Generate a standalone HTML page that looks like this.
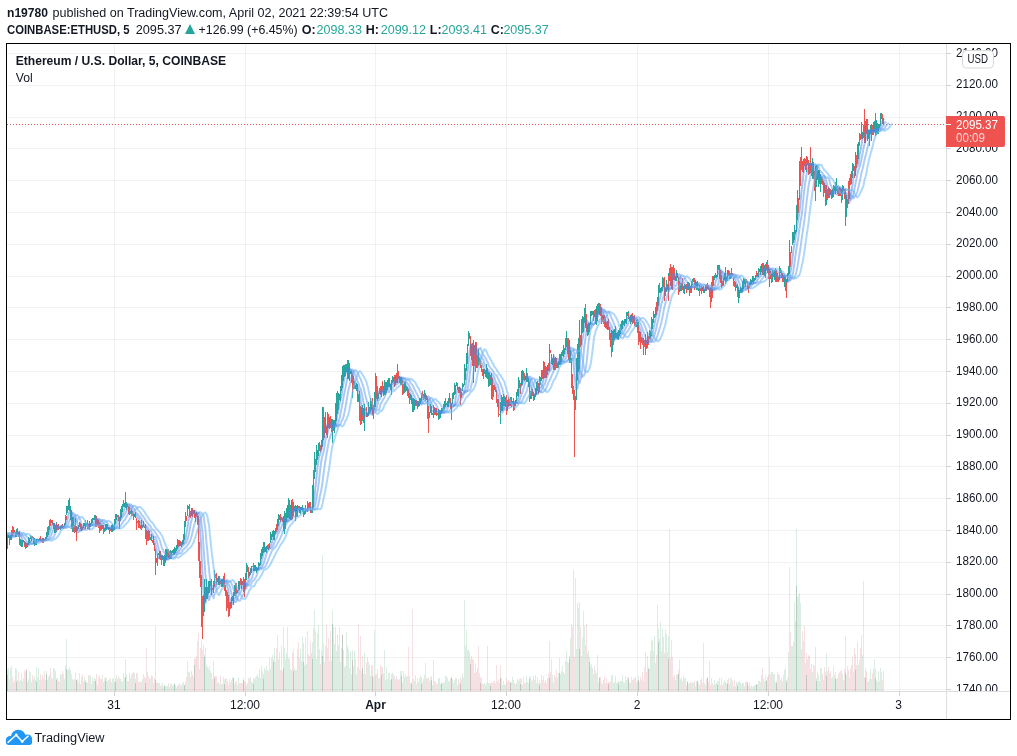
<!DOCTYPE html>
<html><head><meta charset="utf-8"><title>ETHUSD chart</title>
<style>html,body{margin:0;padding:0;background:#fff;}body{width:1017px;height:756px;position:relative;overflow:hidden;font-family:"Liberation Sans",sans-serif;}</style>
</head><body>
<svg width="1017" height="756" viewBox="0 0 1017 756" style="position:absolute;left:0;top:0;will-change:transform">
<defs><clipPath id="cp"><rect x="7" y="44" width="939" height="647"/></clipPath><clipPath id="pa"><rect x="947" y="44" width="63" height="647"/></clipPath></defs>
<g stroke="rgba(40,60,50,0.065)" stroke-width="1" shape-rendering="crispEdges">
<path d="M7 689.5H946M7 657.5H946M7 625.5H946M7 594.5H946M7 562.5H946M7 530.5H946M7 498.5H946M7 466.5H946M7 435.5H946M7 403.5H946M7 371.5H946M7 339.5H946M7 307.5H946M7 276.5H946M7 244.5H946M7 212.5H946M7 180.5H946M7 148.5H946M7 117.5H946M7 85.5H946M7 53.5H946"/>
<path d="M114.5 44V691M245.5 44V691M375.5 44V691M506.5 44V691M637.5 44V691M768.5 44V691M899.5 44V691"/>
</g>
<g clip-path="url(#cp)" shape-rendering="crispEdges" stroke-width="1">
<path stroke="rgba(80,165,115,0.2)" d="M7.5 675V691M7.5 669V675M8.5 668V691M10.5 668V691M11.5 666V691M13.5 682V691M16.5 682V691M16.5 669V682M20.5 680V691M22.5 681V691M26.5 670V691M27.5 682V691M28.5 679V691M29.5 671V691M30.5 672V691M34.5 676V691M36.5 682V691M36.5 667V682M37.5 677V691M38.5 668V691M39.5 680V691M43.5 679V691M45.5 680V691M46.5 671V691M48.5 677V691M49.5 675V691M51.5 677V691M54.5 669V691M56.5 678V691M57.5 678V691M59.5 682V691M60.5 674V691M61.5 675V691M64.5 679V691M65.5 665V691M66.5 639V691M67.5 670V691M68.5 669V691M69.5 667V691M70.5 670V691M72.5 679V691M75.5 673V691M77.5 679V691M78.5 682V691M79.5 673V691M81.5 677V691M83.5 681V691M84.5 677V691M85.5 680V691M86.5 682V691M89.5 676V691M90.5 675V691M91.5 684V691M92.5 677V691M94.5 678V691M95.5 679V691M97.5 685V691M101.5 679V691M104.5 678V691M106.5 678V691M108.5 680V691M111.5 682V691M112.5 678V691M114.5 682V691M115.5 678V691M116.5 675V691M117.5 679V691M120.5 679V691M122.5 682V691M123.5 673V691M124.5 678V691M126.5 674V691M130.5 678V691M134.5 673V691M135.5 683V691M137.5 673V691M142.5 679V691M147.5 672V691M150.5 678V691M153.5 683V691M157.5 682V691M158.5 683V691M159.5 683V691M162.5 683V691M164.5 686V691M164.5 684V686M166.5 686V691M170.5 684V691M172.5 686V691M174.5 683V691M176.5 687V691M177.5 685V691M179.5 683V691M181.5 685V691M182.5 683V691M183.5 682V691M184.5 685V691M185.5 682V691M187.5 661V691M188.5 672V691M191.5 671V691M195.5 658V691M203.5 645V691M204.5 655V691M206.5 665V691M208.5 669V691M209.5 666V691M210.5 671V691M213.5 661V691M218.5 682V691M222.5 684V691M224.5 679V691M229.5 679V691M231.5 680V691M232.5 677V691M233.5 678V691M234.5 684V691M235.5 682V691M237.5 685V691M238.5 677V691M239.5 683V691M243.5 678V691M245.5 682V691M246.5 685V691M249.5 678V691M250.5 677V691M251.5 682V691M252.5 682V691M254.5 679V691M256.5 676V691M258.5 677V691M259.5 669V691M260.5 678V691M261.5 666V691M262.5 671V691M263.5 679V691M264.5 668V691M266.5 666V691M269.5 658V691M270.5 669V691M271.5 658V691M272.5 655V691M273.5 659V691M274.5 648V691M275.5 661V691M278.5 659V691M279.5 652V691M284.5 648V691M286.5 653V691M288.5 658V691M290.5 669V691M291.5 670V691M293.5 671V691M294.5 668V691M296.5 670V691M297.5 649V691M300.5 649V691M301.5 661V691M302.5 637V691M304.5 665V691M305.5 637V691M306.5 664V691M307.5 631V691M309.5 656V691M311.5 653V691M312.5 642V691M313.5 628V691M314.5 610V691M316.5 659V691M317.5 633V691M318.5 625V691M321.5 650V691M322.5 555V691M325.5 646V691M327.5 648V691M329.5 661V691M332.5 610V691M333.5 627V691M334.5 644V691M335.5 627V691M336.5 651V691M338.5 645V691M340.5 662V691M341.5 648V691M342.5 635V691M344.5 667V691M346.5 632V691M348.5 649V691M350.5 651V691M352.5 650V660M354.5 651V691M356.5 674V691M361.5 671V691M364.5 653V691M367.5 657V691M368.5 662V691M370.5 676V691M371.5 665V691M373.5 677V691M374.5 630V691M375.5 675V691M378.5 678V691M379.5 678V691M381.5 667V675M383.5 673V691M384.5 650V691M386.5 667V691M388.5 673V691M390.5 680V691M391.5 674V691M392.5 673V691M393.5 674V691M395.5 679V691M397.5 679V691M400.5 671V691M401.5 676V691M404.5 677V691M406.5 677V691M410.5 683V691M414.5 681V691M415.5 675V691M418.5 682V691M420.5 676V691M421.5 677V691M423.5 679V691M424.5 675V691M425.5 663V691M429.5 681V691M430.5 677V691M431.5 680V691M432.5 685V691M435.5 681V691M438.5 678V691M440.5 684V691M441.5 682V691M442.5 683V691M443.5 683V691M444.5 682V691M446.5 676V691M448.5 681V691M452.5 679V691M453.5 683V691M454.5 680V691M455.5 678V691M456.5 678V691M459.5 682V691M461.5 679V691M462.5 673V691M463.5 677V691M464.5 600V691M465.5 646V691M466.5 630V691M467.5 650V691M468.5 649V691M471.5 656V691M473.5 660V691M475.5 663V691M483.5 684V691M484.5 683V691M486.5 683V691M488.5 683V691M490.5 686V691M491.5 682V691M493.5 681V691M502.5 685V691M504.5 685V691M507.5 682V691M509.5 681V691M510.5 682V691M511.5 682V691M512.5 677V691M515.5 684V691M516.5 683V691M517.5 679V691M518.5 681V691M521.5 679V691M522.5 685V691M525.5 683V691M526.5 676V691M528.5 683V691M530.5 676V691M531.5 681V691M534.5 680V691M535.5 675V691M536.5 683V691M539.5 680V691M540.5 683V691M541.5 675V691M543.5 676V691M545.5 680V691M547.5 678V691M549.5 678V691M549.5 641V678M551.5 659V691M552.5 675V691M555.5 677V691M558.5 673V691M560.5 674V691M562.5 666V691M564.5 674V691M565.5 661V691M566.5 651V691M569.5 659V691M570.5 638V691M575.5 578V691M576.5 649V691M577.5 603V691M578.5 608V691M579.5 602V649M581.5 656V691M582.5 638V691M583.5 611V691M584.5 626V691M588.5 650V691M589.5 657V662M590.5 666V691M591.5 664V691M592.5 668V691M593.5 674V691M596.5 673V691M598.5 682V691M599.5 678V691M603.5 680V691M607.5 683V691M612.5 675V691M614.5 682V691M616.5 683V691M618.5 681V691M620.5 681V691M622.5 675V691M624.5 683V691M625.5 676V691M626.5 680V691M628.5 679V691M630.5 683V691M631.5 677V691M633.5 679V691M636.5 682V691M638.5 676V691M641.5 680V691M645.5 652V691M647.5 656V691M648.5 667V669M649.5 669V691M650.5 651V691M651.5 640V691M652.5 641V691M653.5 651V691M654.5 636V691M655.5 663V691M657.5 605V691M658.5 629V691M660.5 622V691M661.5 651V691M662.5 629V691M665.5 630V691M666.5 634V691M668.5 636V659M669.5 529V691M676.5 675V691M680.5 679V691M684.5 678V691M687.5 681V691M688.5 684V691M691.5 683V691M692.5 682V691M696.5 681V691M698.5 683V691M701.5 678V691M703.5 643V691M704.5 683V691M705.5 685V691M711.5 678V691M713.5 685V691M714.5 680V691M716.5 683V691M717.5 685V691M717.5 681V685M718.5 681V691M723.5 683V691M724.5 680V691M726.5 683V691M727.5 680V691M730.5 678V691M736.5 682V691M738.5 682V691M739.5 681V691M740.5 683V691M742.5 683V691M744.5 686V691M749.5 682V691M750.5 687V691M751.5 685V691M752.5 687V691M754.5 685V691M755.5 685V691M756.5 685V691M757.5 684V691M758.5 681V691M759.5 681V691M760.5 682V691M761.5 675V691M764.5 681V691M766.5 680V681M772.5 672V691M774.5 674V691M777.5 672V691M779.5 675V691M780.5 680V691M784.5 670V691M785.5 668V691M786.5 680V682M787.5 678V691M788.5 652V691M789.5 567V691M791.5 646V691M792.5 646V691M793.5 642V691M794.5 602V691M795.5 621V691M796.5 586V691M796.5 529V586M797.5 597V691M798.5 595V691M799.5 593V691M800.5 603V691M803.5 641V691M806.5 675V691M807.5 659V691M809.5 656V691M812.5 672V691M815.5 647V691M816.5 681V691M816.5 678V681M818.5 675V691M820.5 668V691M826.5 653V691M827.5 671V691M829.5 673V691M832.5 677V691M834.5 675V691M835.5 679V691M836.5 679V691M839.5 672V691M842.5 674V691M846.5 675V691M847.5 666V691M849.5 677V691M851.5 665V691M853.5 672V691M855.5 654V691M857.5 642V691M858.5 665V691M859.5 660V691M861.5 635V691M862.5 655V691M865.5 678V691M865.5 668V678M868.5 681V691M870.5 669V691M871.5 679V691M873.5 669V691M874.5 659V691M876.5 680V691M878.5 671V691M879.5 681V691M880.5 668V691M881.5 672V691"/>
<path stroke="rgba(200,90,100,0.18)" d="M9.5 679V691M12.5 677V691M14.5 680V691M15.5 668V691M17.5 680V691M18.5 672V691M19.5 681V691M21.5 673V691M23.5 678V691M24.5 670V691M25.5 672V691M26.5 669V670M31.5 682V691M32.5 675V691M33.5 679V691M35.5 680V691M40.5 674V691M41.5 680V691M42.5 675V691M44.5 671V691M47.5 680V691M50.5 668V691M52.5 679V691M53.5 668V691M55.5 671V691M58.5 681V691M62.5 671V691M63.5 674V691M71.5 674V691M73.5 680V691M74.5 679V691M76.5 680V691M80.5 684V691M82.5 674V691M87.5 683V691M88.5 675V691M93.5 681V691M96.5 674V691M98.5 677V691M99.5 676V691M100.5 679V691M102.5 675V691M103.5 682V691M105.5 677V691M107.5 681V691M109.5 679V691M110.5 678V691M113.5 679V691M118.5 676V691M119.5 678V691M121.5 681V691M125.5 659V691M127.5 681V691M128.5 681V691M129.5 673V691M131.5 675V691M132.5 673V691M133.5 672V691M135.5 679V683M136.5 673V691M138.5 682V691M139.5 682V691M140.5 681V691M141.5 682V691M143.5 674V691M144.5 677V691M145.5 678V691M146.5 648V691M148.5 676V691M149.5 679V691M151.5 675V691M152.5 676V691M154.5 678V691M155.5 626V691M156.5 683V691M160.5 686V691M161.5 685V691M163.5 687V691M165.5 686V691M167.5 686V691M168.5 683V691M169.5 687V691M171.5 683V691M173.5 685V691M175.5 685V691M178.5 685V691M180.5 685V691M186.5 677V691M189.5 673V691M190.5 677V691M192.5 674V691M193.5 677V691M194.5 659V691M196.5 656V691M197.5 641V691M198.5 633V691M199.5 669V691M200.5 648V691M201.5 640V691M202.5 650V691M205.5 648V691M207.5 667V691M211.5 673V691M212.5 679V691M214.5 676V691M215.5 676V691M216.5 676V691M217.5 683V691M219.5 684V691M220.5 676V691M221.5 684V691M223.5 677V691M225.5 679V691M226.5 678V691M227.5 681V691M228.5 685V691M230.5 682V691M236.5 681V691M240.5 683V691M241.5 683V691M242.5 683V691M244.5 681V691M247.5 683V691M248.5 678V691M253.5 684V691M253.5 678V684M255.5 677V691M257.5 674V691M263.5 674V679M265.5 670V691M267.5 670V691M268.5 671V691M276.5 648V691M277.5 635V691M280.5 670V691M281.5 646V691M282.5 671V691M283.5 627V691M285.5 659V691M287.5 627V691M289.5 659V691M292.5 653V691M293.5 649V671M295.5 670V691M298.5 642V691M299.5 658V691M303.5 643V691M308.5 654V691M310.5 642V691M315.5 631V691M319.5 649V691M320.5 664V691M323.5 643V691M324.5 662V691M326.5 625V691M328.5 638V691M330.5 631V691M331.5 661V691M337.5 635V691M339.5 627V691M342.5 634V635M343.5 650V691M345.5 666V691M347.5 646V691M349.5 668V691M351.5 674V691M352.5 660V691M353.5 666V691M355.5 659V691M357.5 667V691M358.5 624V691M359.5 669V691M360.5 636V691M362.5 656V691M363.5 674V691M365.5 674V691M366.5 662V691M369.5 665V691M372.5 676V691M372.5 666V676M376.5 674V691M377.5 669V691M380.5 665V691M381.5 675V691M382.5 667V691M385.5 680V691M387.5 679V691M389.5 673V691M394.5 676V691M396.5 676V691M398.5 680V691M399.5 679V691M401.5 671V676M402.5 683V691M403.5 671V691M405.5 674V691M407.5 676V691M408.5 647V691M409.5 676V691M411.5 682V691M412.5 609V691M413.5 679V691M416.5 684V691M417.5 678V691M419.5 678V691M422.5 682V691M426.5 678V691M427.5 678V691M428.5 677V691M431.5 676V680M433.5 660V691M434.5 681V691M436.5 684V691M437.5 683V691M439.5 678V691M445.5 676V691M447.5 678V691M449.5 681V691M450.5 678V691M451.5 677V691M457.5 685V691M458.5 679V691M460.5 684V691M460.5 677V684M469.5 652V691M470.5 659V691M472.5 659V691M474.5 673V691M476.5 672V691M477.5 668V691M478.5 646V691M479.5 673V691M480.5 677V691M481.5 678V691M482.5 684V691M485.5 685V691M487.5 646V691M489.5 683V691M490.5 683V686M492.5 683V691M494.5 681V691M495.5 683V691M496.5 665V691M497.5 681V691M498.5 679V691M499.5 683V691M500.5 665V691M501.5 678V691M503.5 681V691M505.5 684V691M506.5 678V691M508.5 680V691M513.5 680V691M514.5 683V691M519.5 679V691M520.5 678V691M523.5 677V691M524.5 683V691M527.5 682V691M529.5 677V691M532.5 680V691M533.5 676V691M537.5 677V691M538.5 683V691M542.5 680V691M544.5 682V691M546.5 683V691M548.5 674V691M550.5 672V691M553.5 682V691M554.5 675V691M556.5 670V691M557.5 678V691M559.5 673V691M559.5 658V673M561.5 671V691M563.5 672V691M567.5 662V691M568.5 663V691M569.5 656V659M571.5 624V691M572.5 627V691M573.5 570V691M574.5 657V691M579.5 649V691M580.5 627V691M585.5 645V691M586.5 624V691M587.5 653V691M589.5 662V691M594.5 666V691M595.5 671V691M597.5 655V691M599.5 677V678M600.5 677V691M601.5 682V691M602.5 684V691M604.5 676V691M605.5 683V691M606.5 678V691M608.5 682V691M609.5 682V691M610.5 681V691M611.5 675V691M613.5 683V691M615.5 676V691M617.5 682V691M619.5 682V691M621.5 681V691M623.5 682V691M627.5 677V691M628.5 677V679M629.5 682V691M632.5 680V691M634.5 678V691M635.5 677V691M637.5 681V691M639.5 682V691M640.5 677V691M642.5 672V691M643.5 681V691M644.5 667V691M646.5 672V691M648.5 669V691M656.5 655V691M659.5 639V691M663.5 637V691M664.5 653V691M667.5 652V691M668.5 659V691M670.5 657V691M671.5 640V691M672.5 657V691M673.5 677V691M674.5 675V691M675.5 680V691M677.5 674V691M678.5 670V691M679.5 660V691M681.5 677V691M682.5 681V691M683.5 676V691M685.5 678V691M686.5 685V691M689.5 683V691M690.5 682V691M693.5 683V691M694.5 681V691M695.5 686V691M697.5 681V691M699.5 685V691M700.5 680V691M702.5 683V691M706.5 679V691M707.5 677V691M708.5 682V691M709.5 661V691M710.5 685V691M712.5 683V691M715.5 684V691M719.5 678V691M720.5 685V691M721.5 678V691M722.5 685V691M725.5 682V691M728.5 678V691M729.5 684V691M731.5 679V691M732.5 681V691M733.5 686V691M734.5 680V691M735.5 686V691M737.5 683V691M741.5 684V691M743.5 683V691M745.5 682V691M746.5 681V691M747.5 683V691M747.5 682V683M748.5 686V691M753.5 686V691M756.5 684V685M762.5 668V691M763.5 678V691M765.5 675V691M766.5 681V691M767.5 677V691M768.5 675V691M769.5 658V691M770.5 674V691M771.5 672V691M773.5 674V691M775.5 682V691M776.5 681V691M778.5 674V691M781.5 678V691M782.5 681V691M783.5 675V691M786.5 682V691M790.5 632V691M801.5 649V691M802.5 631V691M804.5 626V691M805.5 663V691M806.5 653V675M808.5 655V691M810.5 669V691M811.5 664V691M813.5 665V691M814.5 666V691M817.5 672V691M819.5 681V691M821.5 668V691M822.5 674V691M823.5 680V691M824.5 667V691M825.5 672V691M828.5 667V691M830.5 671V691M831.5 678V691M833.5 666V691M835.5 672V679M837.5 678V691M838.5 674V691M840.5 671V691M841.5 670V691M843.5 680V691M844.5 669V691M845.5 636V691M848.5 670V691M850.5 669V691M852.5 657V691M854.5 648V691M856.5 665V691M860.5 648V691M863.5 581V691M864.5 677V691M866.5 671V691M867.5 682V691M869.5 679V691M872.5 673V691M875.5 669V691M877.5 682V691M882.5 680V691M883.5 671V691"/>
<path stroke="rgba(60,110,90,0.25)" d="M7.5 675V691M16.5 682V691M36.5 682V691M46.5 674V691M66.5 669V691M76.5 680V691M115.5 682V691M164.5 686V691M174.5 684V691M184.5 685V691M194.5 665V691M204.5 657V691M214.5 678V691M312.5 659V691M322.5 656V691M332.5 624V691M352.5 660V691M362.5 668V691M381.5 675V691M391.5 679V691M421.5 684V691M451.5 678V691M500.5 678V691M520.5 684V691M549.5 678V691M579.5 649V691M589.5 662V691M618.5 684V691M648.5 669V691M658.5 642V691M668.5 659V691M678.5 674V691M707.5 678V691M717.5 685V691M727.5 684V691M766.5 681V691M776.5 683V691M786.5 682V691M796.5 586V691M816.5 681V691M855.5 670V691M865.5 678V691"/>
<path stroke="rgba(120,80,90,0.25)" d="M26.5 670V691M56.5 680V691M85.5 682V691M95.5 681V691M105.5 681V691M125.5 677V691M135.5 683V691M145.5 683V691M155.5 680V691M224.5 684V691M233.5 678V691M243.5 680V691M253.5 684V691M263.5 679V691M273.5 662V691M283.5 668V691M293.5 671V691M303.5 662V691M342.5 635V691M372.5 676V691M401.5 676V691M411.5 684V691M431.5 680V691M441.5 684V691M460.5 684V691M470.5 664V691M480.5 683V691M490.5 686V691M510.5 683V691M529.5 679V691M539.5 685V691M559.5 673V691M569.5 659V691M599.5 678V691M608.5 684V691M628.5 679V691M638.5 680V691M687.5 682V691M697.5 681V691M737.5 686V691M747.5 683V691M756.5 685V691M806.5 675V691M826.5 676V691M835.5 679V691M845.5 673V691M875.5 678V691"/>
</g>
<path d="M7 124.5H946" stroke="#ef5350" stroke-width="1" stroke-dasharray="1 2" shape-rendering="crispEdges"/>
<g clip-path="url(#cp)" shape-rendering="crispEdges" stroke-width="1">
<path stroke="#26a69a" d="M7.50 537V549M7.50 535V542M8.50 535V538M10.50 535V540M11.50 530V540M13.50 527V534M16.50 533V537M16.50 529V535M20.50 539V546M22.50 540V547M26.50 544V548M27.50 543V547M28.50 537V545M29.50 538V543M30.50 535V539M34.50 538V546M36.50 539V545M36.50 539V543M37.50 539V540M38.50 539V540M39.50 538V540M43.50 538V543M45.50 537V541M46.50 535V539M46.50 532V535M48.50 526V535M49.50 520V530M51.50 520V523M54.50 523V533M56.50 522V532M57.50 525V530M59.50 527V529M60.50 526V530M61.50 525V528M64.50 523V527M65.50 515V525M66.50 506V515M67.50 506V513M68.50 500V510M69.50 498V511M70.50 506V520M72.50 517V532M75.50 518V532M76.50 534V536M77.50 527V531M78.50 525V529M79.50 522V527M81.50 524V531M83.50 523V528M84.50 523V526M85.50 521V525M86.50 523V525M89.50 521V530M90.50 523V527M91.50 519V524M92.50 518V523M94.50 515V520M95.50 516V519M97.50 519V526M101.50 525V530M104.50 528V532M106.50 524V530M108.50 527V530M111.50 525V532M112.50 524V532M114.50 519V530M115.50 518V524M115.50 514V524M116.50 514V520M117.50 515V517M120.50 509V521M122.50 504V512M123.50 500V507M124.50 503V507M126.50 502V510M130.50 511V514M134.50 514V517M135.50 512V518M137.50 521V523M142.50 525V528M147.50 531V541M150.50 537V540M153.50 536V545M157.50 554V566M158.50 553V555M159.50 551V559M162.50 555V560M164.50 557V566M164.50 555V561M166.50 549V560M170.50 550V559M172.50 550V553M174.50 552V555M174.50 547V554M176.50 545V551M177.50 539V549M179.50 540V546M181.50 542V547M182.50 540V545M183.50 534V544M184.50 534V540M184.50 521V536M185.50 512V527M187.50 505V516M188.50 506V509M191.50 508V516M194.50 515V517M195.50 513V522M203.50 595V616M204.50 593V612M204.50 579V605M206.50 579V599M208.50 581V594M209.50 581V593M210.50 581V586M213.50 581V593M214.50 570V585M218.50 576V585M222.50 579V587M224.50 577V582M229.50 602V616M231.50 597V608M232.50 596V601M233.50 592V605M234.50 585V596M235.50 583V594M237.50 590V593M238.50 581V591M239.50 581V590M243.50 579V585M245.50 573V589M246.50 563V580M249.50 572V576M250.50 568V575M251.50 566V573M252.50 566V567M254.50 565V571M256.50 567V573M258.50 562V570M259.50 563V566M260.50 553V565M261.50 549V559M262.50 547V556M263.50 542V553M264.50 542V552M266.50 546V553M269.50 543V548M270.50 532V543M271.50 534V540M272.50 531V537M273.50 530V540M274.50 531V540M275.50 528V534M277.50 519V530M278.50 514V526M279.50 515V520M284.50 511V534M286.50 508V522M287.50 505V518M288.50 498V518M290.50 505V520M291.50 500V520M293.50 502V516M294.50 506V511M296.50 506V517M297.50 505V517M300.50 507V514M301.50 507V510M302.50 505V512M304.50 511V515M305.50 505V514M306.50 509V511M307.50 501V512M309.50 502V508M311.50 510V513M312.50 504V513M312.50 485V512M313.50 470V507M314.50 452V479M316.50 445V465M317.50 450V460M318.50 443V456M321.50 440V450M322.50 412V447M322.50 407V437M325.50 412V433M327.50 412V438M329.50 417V429M332.50 419V443M333.50 420V431M334.50 420V433M335.50 403V425M336.50 393V421M338.50 393V410M340.50 386V401M341.50 375V391M342.50 369V388M342.50 366V379M344.50 365V377M346.50 364V372M348.50 360V379M350.50 371V374M352.50 379V398M354.50 381V389M356.50 383V391M358.50 394V402M361.50 407V424M362.50 405V421M364.50 404V431M367.50 413V417M368.50 402V416M370.50 398V412M371.50 401V410M373.50 405V419M374.50 392V410M375.50 373V407M378.50 393V399M379.50 388V394M381.50 386V394M383.50 386V396M384.50 380V395M386.50 382V393M388.50 378V387M390.50 384V390M391.50 380V395M391.50 380V386M392.50 376V383M393.50 377V382M395.50 375V385M397.50 364V383M400.50 377V385M401.50 377V385M404.50 381V393M406.50 386V391M410.50 394V400M412.50 398V412M414.50 399V410M415.50 400V406M418.50 401V407M420.50 398V404M421.50 393V401M421.50 396V399M423.50 394V400M424.50 390V399M429.50 412V418M430.50 404V413M431.50 407V410M432.50 413V415M433.50 405V418M435.50 408V415M438.50 409V420M440.50 410V418M441.50 408V413M442.50 408V412M443.50 404V411M444.50 401V409M446.50 403V405M448.50 398V407M451.50 403V412M452.50 393V404M453.50 392V399M454.50 383V395M455.50 385V394M456.50 382V386M459.50 387V393M461.50 392V398M462.50 383V391M463.50 384V387M464.50 364V385M465.50 368V380M466.50 353V371M467.50 344V364M468.50 331V346M471.50 344V360M473.50 340V383M475.50 342V372M478.50 349V366M483.50 369V379M484.50 369V374M486.50 364V378M488.50 372V387M490.50 375V385M491.50 373V399M493.50 385V397M500.50 406V424M500.50 402V418M502.50 397V411M504.50 396V406M507.50 400V411M509.50 399V406M510.50 397V404M511.50 397V407M512.50 401V403M515.50 400V406M516.50 392V402M517.50 389V396M518.50 377V397M520.50 383V388M521.50 371V386M522.50 370V385M525.50 376V380M526.50 368V382M528.50 378V387M530.50 391V399M531.50 388V399M534.50 394V400M535.50 388V397M536.50 382V395M539.50 384V392M540.50 377V385M541.50 370V381M543.50 361V379M545.50 366V378M547.50 365V375M549.50 366V370M549.50 344V371M552.50 358V365M555.50 357V370M558.50 361V368M559.50 354V365M560.50 354V365M562.50 350V356M564.50 348V354M565.50 338V350M566.50 331V347M569.50 340V356M570.50 350V363M576.50 358V400M577.50 344V380M578.50 338V372M579.50 320V369M581.50 319V345M582.50 316V333M583.50 317V332M584.50 308V323M588.50 323V335M589.50 324V330M590.50 311V325M591.50 311V316M592.50 311V315M593.50 311V321M596.50 306V325M598.50 303V314M599.50 303V309M603.50 315V324M607.50 321V330M612.50 331V352M614.50 329V340M616.50 333V338M618.50 330V340M618.50 330V335M620.50 324V334M622.50 320V329M624.50 319V326M625.50 319V323M626.50 312V324M628.50 311V319M630.50 315V324M631.50 314V322M633.50 316V323M636.50 320V327M638.50 322V333M641.50 337V343M645.50 334V355M647.50 332V348M648.50 339V342M649.50 330V339M650.50 331V338M651.50 317V336M652.50 319V329M653.50 311V323M654.50 314V318M655.50 307V317M657.50 297V311M658.50 285V306M658.50 285V298M660.50 288V293M661.50 287V292M662.50 277V291M666.50 280V292M668.50 273V298M669.50 268V281M671.50 267V289M676.50 270V281M678.50 279V287M680.50 283V291M684.50 284V294M687.50 284V289M688.50 282V290M691.50 281V293M692.50 279V285M696.50 282V290M698.50 288V291M701.50 286V294M704.50 289V293M705.50 285V291M707.50 283V289M711.50 282V302M713.50 276V286M714.50 275V280M716.50 275V278M717.50 267V277M717.50 265V275M718.50 265V270M723.50 278V286M724.50 273V280M726.50 277V282M727.50 270V281M727.50 272V276M730.50 273V279M736.50 285V288M738.50 287V303M739.50 290V298M740.50 287V293M742.50 281V292M744.50 279V284M749.50 283V288M750.50 279V285M751.50 280V284M752.50 276V282M754.50 278V281M755.50 275V280M756.50 274V277M757.50 273V277M758.50 268V277M759.50 269V272M760.50 266V275M761.50 264V272M764.50 265V276M766.50 262V270M769.50 269V287M772.50 270V282M774.50 270V280M776.50 279V282M777.50 273V282M779.50 266V280M780.50 268V273M784.50 275V287M786.50 279V288M787.50 273V282M788.50 266V276M789.50 240V274M791.50 246V253M792.50 232V245M793.50 232V243M794.50 225V240M795.50 230V234M796.50 213V232M796.50 205V225M797.50 190V220M799.50 161V200M803.50 159V173M806.50 158V172M807.50 157V165M809.50 163V174M812.50 158V179M815.50 166V201M816.50 168V187M816.50 165V178M818.50 170V187M820.50 174V192M826.50 191V205M827.50 189V200M829.50 188V198M832.50 189V198M834.50 186V191M835.50 183V194M836.50 178V191M839.50 187V196M842.50 185V200M846.50 195V217M849.50 178V199M851.50 171V184M852.50 163V178M853.50 164V171M855.50 169V176M855.50 152V172M857.50 144V164M858.50 142V159M859.50 133V146M861.50 122V139M862.50 132V139M865.50 121V143M865.50 122V141M868.50 130V139M870.50 125V134M871.50 124V141M873.50 122V135M874.50 121V132M876.50 120V135M878.50 124V134M879.50 124V128M880.50 113V126M881.50 113V119"/>
<path stroke="#ef5350" d="M9.50 536V545M12.50 526V536M14.50 530V533M15.50 532V537M17.50 528V535M18.50 532V537M19.50 531V545M21.50 540V547M23.50 540V542M24.50 541V547M25.50 542V549M26.50 543V547M31.50 536V541M32.50 536V538M33.50 537V544M35.50 541V545M40.50 536V541M41.50 539V542M42.50 538V543M44.50 539V541M47.50 527V537M50.50 519V526M52.50 520V525M53.50 523V529M55.50 525V533M56.50 523V531M58.50 524V530M62.50 524V528M63.50 526V529M66.50 516V520M71.50 510V529M73.50 517V532M74.50 525V533M76.50 526V541M80.50 523V529M82.50 527V530M85.50 520V529M87.50 520V529M88.50 524V529M93.50 518V520M95.50 515V527M96.50 516V527M98.50 520V528M99.50 522V533M100.50 523V531M102.50 525V529M103.50 525V534M105.50 524V530M105.50 527V531M107.50 524V529M109.50 528V534M110.50 528V531M113.50 525V531M118.50 515V521M119.50 517V529M121.50 506V518M125.50 492V505M125.50 498V508M127.50 504V507M128.50 506V514M129.50 507V515M131.50 510V516M132.50 511V516M133.50 513V520M135.50 514V517M136.50 518V530M138.50 520V528M139.50 521V528M140.50 525V529M141.50 520V530M143.50 521V527M144.50 526V528M145.50 524V530M145.50 525V539M146.50 530V545M148.50 530V541M149.50 531V540M151.50 534V541M152.50 540V543M154.50 543V551M155.50 549V559M155.50 551V575M156.50 558V563M160.50 551V560M161.50 555V565M163.50 556V566M165.50 549V563M167.50 549V557M168.50 549V558M169.50 551V559M171.50 551V559M173.50 549V554M175.50 548V553M178.50 540V547M180.50 541V546M186.50 516V521M189.50 504V517M190.50 511V518M192.50 508V517M193.50 510V514M194.50 510V518M196.50 512V517M197.50 514V525M198.50 516V561M199.50 542V578M200.50 561V587M201.50 575V627M202.50 596V639M205.50 587V602M207.50 587V599M211.50 579V595M212.50 588V590M214.50 584V587M215.50 574V578M216.50 573V585M217.50 578V582M219.50 576V585M220.50 581V584M221.50 579V587M223.50 576V587M224.50 573V591M225.50 585V596M226.50 590V611M227.50 592V608M228.50 595V617M230.50 602V609M233.50 595V600M236.50 583V594M240.50 578V585M241.50 579V589M242.50 581V585M243.50 577V592M244.50 579V597M247.50 565V572M248.50 567V578M253.50 563V571M253.50 565V571M255.50 565V571M257.50 568V571M263.50 544V549M265.50 547V552M267.50 545V549M268.50 544V550M273.50 532V538M276.50 524V532M280.50 514V522M281.50 517V520M282.50 518V522M283.50 516V528M283.50 520V531M285.50 513V529M289.50 500V519M292.50 499V519M293.50 504V514M295.50 505V521M298.50 506V508M299.50 506V513M303.50 508V513M303.50 509V517M308.50 503V509M310.50 502V513M315.50 459V472M319.50 442V451M320.50 445V452M323.50 407V440M324.50 417V438M326.50 426V435M328.50 414V428M330.50 416V428M331.50 419V432M332.50 430V432M337.50 391V414M339.50 394V400M343.50 365V381M345.50 364V376M347.50 360V379M349.50 363V381M351.50 371V383M352.50 374V392M353.50 376V389M355.50 385V389M357.50 384V402M359.50 391V421M360.50 406V425M362.50 415V420M363.50 408V423M365.50 409V410M366.50 407V417M369.50 407V414M372.50 398V415M372.50 408V415M376.50 376V399M377.50 386V401M380.50 386V395M381.50 392V397M382.50 381V392M385.50 382V395M387.50 380V390M389.50 378V387M394.50 375V387M396.50 373V383M398.50 371V379M399.50 376V383M401.50 377V383M402.50 380V395M403.50 384V394M405.50 382V392M407.50 387V396M408.50 389V398M409.50 393V404M411.50 395V403M411.50 399V404M413.50 398V412M416.50 400V406M417.50 401V409M419.50 398V406M422.50 391V398M425.50 393V401M426.50 395V400M427.50 398V419M428.50 406V433M431.50 406V415M434.50 407V415M436.50 408V416M437.50 413V415M439.50 410V419M441.50 409V414M445.50 398V407M447.50 401V407M449.50 393V403M450.50 398V409M451.50 403V420M457.50 383V390M458.50 387V393M460.50 389V398M460.50 388V405M469.50 333V339M470.50 336V349M470.50 340V356M472.50 343V366M474.50 345V366M476.50 342V368M477.50 355V368M479.50 358V365M480.50 360V368M480.50 364V366M481.50 365V372M482.50 369V376M485.50 370V377M487.50 368V379M489.50 373V386M490.50 377V379M492.50 378V400M494.50 385V390M495.50 387V392M496.50 390V403M497.50 399V407M498.50 399V417M499.50 414V415M501.50 395V411M503.50 394V406M505.50 397V407M506.50 395V415M508.50 397V407M510.50 400V406M513.50 398V411M514.50 403V410M519.50 380V388M520.50 384V394M523.50 371V380M524.50 373V381M527.50 373V382M529.50 382V390M529.50 387V402M532.50 389V396M533.50 392V401M537.50 381V391M538.50 383V394M539.50 376V389M542.50 370V379M544.50 362V378M546.50 367V378M548.50 363V371M550.50 350V353M551.50 354V364M553.50 354V370M554.50 358V370M556.50 358V368M557.50 363V368M559.50 360V364M561.50 352V362M563.50 345V357M567.50 338V354M568.50 338V360M569.50 344V363M571.50 358V388M572.50 374V394M573.50 386V400M574.50 390V457M575.50 396V410M579.50 342V365M580.50 335V347M585.50 304V328M586.50 314V332M587.50 324V336M589.50 323V332M594.50 310V317M595.50 309V324M597.50 304V321M599.50 303V315M600.50 304V316M601.50 307V324M602.50 315V322M604.50 315V327M605.50 317V328M606.50 322V329M608.50 319V330M608.50 326V330M609.50 327V340M610.50 333V347M611.50 330V357M613.50 330V345M615.50 326V338M617.50 332V339M619.50 328V336M621.50 321V330M623.50 321V325M627.50 312V316M628.50 313V318M629.50 317V321M632.50 313V324M634.50 315V326M635.50 322V327M637.50 319V333M638.50 325V345M639.50 331V342M640.50 332V349M642.50 338V345M643.50 338V355M644.50 340V347M646.50 340V349M648.50 336V345M656.50 302V315M659.50 283V293M663.50 278V287M664.50 277V301M665.50 288V296M667.50 284V290M668.50 276V301M670.50 264V286M672.50 267V290M673.50 265V280M674.50 268V280M675.50 276V281M677.50 273V278M678.50 277V295M679.50 281V292M681.50 283V291M682.50 278V290M683.50 286V293M685.50 285V289M686.50 284V293M687.50 282V290M689.50 283V296M690.50 286V293M693.50 278V282M694.50 278V290M695.50 280V288M697.50 281V286M697.50 283V290M699.50 285V296M700.50 288V291M702.50 287V291M703.50 286V293M706.50 284V291M707.50 285V288M708.50 285V290M709.50 288V297M710.50 288V308M712.50 276V298M715.50 273V278M719.50 265V279M720.50 270V283M721.50 275V288M722.50 281V286M725.50 267V284M728.50 270V276M729.50 271V279M731.50 268V278M732.50 273V276M733.50 278V286M734.50 281V287M735.50 282V291M737.50 284V297M737.50 287V296M741.50 288V293M743.50 278V289M745.50 279V287M746.50 279V283M747.50 281V289M747.50 282V286M748.50 285V293M753.50 276V283M756.50 271V276M762.50 263V275M763.50 263V275M765.50 264V278M766.50 264V269M767.50 260V273M768.50 265V279M770.50 271V279M771.50 273V283M773.50 271V277M775.50 268V282M776.50 270V282M778.50 277V282M781.50 270V278M782.50 273V282M783.50 275V282M785.50 277V291M786.50 282V298M790.50 252V267M798.50 198V213M800.50 157V186M801.50 147V170M802.50 161V172M804.50 158V166M805.50 159V170M806.50 156V170M808.50 160V175M810.50 147V173M811.50 163V176M813.50 162V179M814.50 171V191M817.50 166V180M819.50 170V184M821.50 177V184M822.50 179V185M823.50 181V197M824.50 183V193M825.50 185V206M826.50 185V199M828.50 187V198M830.50 189V195M831.50 190V199M833.50 185V197M835.50 182V187M837.50 186V194M838.50 188V196M840.50 188V196M841.50 189V203M843.50 186V191M844.50 189V199M845.50 189V226M845.50 191V217M847.50 199V208M848.50 181V204M850.50 174V185M854.50 166V178M856.50 155V168M860.50 134V140M863.50 125V138M864.50 109V143M866.50 119V134M867.50 119V141M869.50 130V146M872.50 125V135M875.50 113V133M875.50 129V136M877.50 123V134M882.50 114V124M883.50 118V124"/>
</g>
<g clip-path="url(#cp)">
<polyline points="-7,535.2 -6.1,534.9 -5.2,535.3 -4.3,535.8 -3.4,535.3 -2.5,534.4 -1.6,533.8 -0.7,532.8 0.2,531.1 1.1,531.4 2.1,532.3 3,533.4 3.9,534.1 4.8,535.5 5.7,534.7 6.6,534.2 7.5,535.2 8.4,535.5 9.3,535.6 10.2,537.6 11.1,538.5 12,536.8 12.9,535.9 13.9,534.2 14.8,532.6 15.7,532.3 16.6,532.7 17.5,532 18.4,533.1 19.3,533.9 20.2,535.1 21.1,536.4 22,539.3 22.9,540.8 23.8,542 24.8,542.7 25.7,544 26.6,544.2 27.5,545 28.4,545.2 29.3,544.5 30.2,542.8 31.1,541.1 32,539.3 32.9,538.2 33.8,538.5 34.7,539.2 35.6,540.8 36.6,541.6 37.5,542 38.4,541.2 39.3,540.6 40.2,539.5 41.1,539.3 42,539.3 42.9,539.7 43.8,539.9 44.7,540.1 45.6,539.6 46.5,538.7 47.5,537 48.4,536.2 49.3,533.6 50.2,530.6 51.1,528 52,525.5 52.9,523.1 53.8,523.6 54.7,524.8 55.6,526.8 56.5,527.6 57.4,528.4 58.3,527.7 59.3,527.8 60.2,527.2 61.1,527.9 62,527.3 62.9,527.7 63.8,527.3 64.7,526.2 65.6,524.3 66.5,522.8 67.4,519.6 68.3,515.9 69.2,512.8 70.2,510.7 71.1,510.6 72,514 72.9,515.8 73.8,519.8 74.7,524.6 75.6,526.6 76.5,528.7 77.4,532.1 78.3,532.4 79.2,531.2 80.1,530.3 81,528.2 82,526.8 82.9,526.7 83.8,526.6 84.7,526.6 85.6,525.3 86.5,524.7 87.4,524 88.3,524 89.2,525 90.1,526 91,525.8 91.9,525.1 92.9,524 93.8,522.5 94.7,520.6 95.6,519.1 96.5,518 97.4,518.9 98.3,519 99.2,520.1 100.1,521.9 101,524.3 101.9,524.7 102.8,526 103.7,527.8 104.7,528.3 105.6,528.2 106.5,529 107.4,528.3 108.3,527.8 109.2,527.9 110.1,528.1 111,528.3 111.9,528.8 112.8,528.1 113.7,528.1 114.6,526.5 115.6,524.3 116.5,522.2 117.4,520.3 118.3,517.6 119.2,517.4 120.1,517.5 121,516.2 121.9,515.8 122.8,514 123.7,511.1 124.6,507.8 125.5,506 126.4,504.3 127.4,503.9 128.3,503.9 129.2,504.7 130.1,507.2 131,508.4 131.9,510.2 132.8,512 133.7,513.6 134.6,513.8 135.5,514.5 136.4,515.2 137.3,516.9 138.2,517.7 139.2,519.3 140.1,521.7 141,523.8 141.9,525.1 142.8,525.9 143.7,526.6 144.6,526.8 145.5,526.7 146.4,528.1 147.3,531 148.2,532.1 149.1,533.2 150.1,535.3 151,535.7 151.9,535.8 152.8,537.7 153.7,539.2 154.6,541.5 155.5,545.6 156.4,550 157.3,554.5 158.2,557.5 159.1,558.8 160,557.5 160.9,556.9 161.9,556.2 162.8,556.6 163.7,558.7 164.6,560.3 165.5,559.8 166.4,559.9 167.3,558.6 168.2,555.7 169.1,555.2 170,555.6 170.9,553.7 171.8,554.2 172.8,554.4 173.7,553.6 174.6,552.7 175.5,552.3 176.4,552 177.3,550.6 178.2,548.2 179.1,546.7 180,545.4 180.9,544.1 181.8,543.9 182.7,544.1 183.6,543.1 184.6,541.5 185.5,538.9 186.4,533.3 187.3,528.8 188.2,522.3 189.1,516.6 190,513.2 190.9,513 191.8,510.8 192.7,511.3 193.6,512.4 194.5,512.6 195.5,512.6 196.4,513.7 197.3,514.4 198.2,516.8 199.1,519.1 200,530.5 200.9,541.3 201.8,562.1 202.7,577.3 203.6,594.1 204.5,598.2 205.4,603.3 206.3,598.7 207.3,596.4 208.2,592.8 209.1,591.9 210,590.1 210.9,587.2 211.8,587.1 212.7,586.2 213.6,585.5 214.5,585.9 215.4,584.5 216.3,581.9 217.2,580.5 218.2,579.6 219.1,577.7 220,579.4 220.9,581 221.8,581.8 222.7,581.5 223.6,582.1 224.5,581.3 225.4,581.8 226.3,582.8 227.2,585.7 228.1,590.1 229,596.5 230,599.9 230.9,603.2 231.8,604.4 232.7,603.2 233.6,600.3 234.5,599.6 235.4,597 236.3,593.8 237.2,593 238.1,591.9 239,589.7 239.9,587.2 240.9,586.7 241.8,584.7 242.7,583.3 243.6,581.9 244.5,583.5 245.4,586.2 246.3,585.6 247.2,582.7 248.1,580.6 249,577.8 249.9,573.5 250.8,571.6 251.7,571 252.7,570.1 253.6,568.6 254.5,567.9 255.4,567.2 256.3,567.9 257.2,568.6 258.1,569.1 259,567.9 259.9,567.5 260.8,564.9 261.7,561.4 262.6,557.2 263.6,553.9 264.5,550.8 265.4,548.8 266.3,548.7 267.2,548.2 268.1,548.4 269,548.6 269.9,548.2 270.8,545.8 271.7,543.4 272.6,540.3 273.5,536.8 274.4,535.2 275.4,534 276.3,532.8 277.2,531.9 278.1,529.7 279,525.9 279.9,522.8 280.8,520.6 281.7,518.5 282.6,518 283.5,518.8 284.4,521.3 285.3,520.6 286.3,522 287.2,520.7 288.1,517.8 289,512.1 289.9,512.9 290.8,511.5 291.7,509.5 292.6,511 293.5,511.7 294.4,509.9 295.3,507.8 296.2,509.8 297.1,508.6 298.1,509.1 299,508.8 299.9,509.7 300.8,508.8 301.7,508.8 302.6,509 303.5,509.8 304.4,510.4 305.3,510.9 306.2,511 307.1,511 308,509.5 309,507.9 309.9,506.8 310.8,507.1 311.7,507.5 312.6,508.2 313.5,504.9 314.4,498.7 315.3,488.5 316.2,479.9 317.1,470.8 318,462.9 318.9,457.1 319.8,455.2 320.8,451.9 321.7,448.1 322.6,443.8 323.5,437.5 324.4,431.8 325.3,428.6 326.2,425.5 327.1,425.2 328,426.1 328.9,426.9 329.8,423.3 330.7,423.1 331.7,423.5 332.6,426.1 333.5,426.5 334.4,427.8 335.3,427.4 336.2,422.8 337.1,416 338,412.7 338.9,407.1 339.8,401.9 340.7,398.4 341.6,395 342.5,388.5 343.5,383 344.4,378.5 345.3,373.9 346.2,372.2 347.1,369.6 348,370.9 348.9,368.5 349.8,369.5 350.7,369.7 351.6,371.2 352.5,373.8 353.4,377.8 354.4,380.9 355.3,383.4 356.2,386.4 357.1,385.9 358,388.5 358.9,390 359.8,394.9 360.7,401.5 361.6,408 362.5,412.5 363.4,415.2 364.3,417.8 365.2,415.4 366.2,413.7 367.1,412.9 368,413.7 368.9,410.6 369.8,411 370.7,411 371.6,408.4 372.5,408.1 373.4,409.5 374.3,408.5 375.2,405.5 376.1,400.4 377.1,397.4 378,394.2 378.9,391.6 379.8,390.7 380.7,394 381.6,393.5 382.5,390.9 383.4,390.8 384.3,390.3 385.2,388.5 386.1,388 387,387.5 387.9,386 388.9,384.4 389.8,385 390.7,383.8 391.6,383.8 392.5,383.1 393.4,383.1 394.3,381.4 395.2,381.2 396.1,379.9 397,379.6 397.9,377.4 398.8,377.3 399.8,377 400.7,377.5 401.6,377.3 402.5,379.9 403.4,381.3 404.3,382.8 405.2,383.6 406.1,386 407,387.1 407.9,388.2 408.8,389.2 409.7,392.4 410.6,393.5 411.6,396.3 412.5,398.8 413.4,400 414.3,401.8 415.2,403.9 416.1,404.1 417,404.3 417.9,405.2 418.8,404.2 419.7,403.5 420.6,403.1 421.5,401.6 422.4,399.8 423.4,398.8 424.3,397.3 425.2,396.1 426.1,396.2 427,396.7 427.9,399.7 428.8,403.8 429.7,407.2 430.6,409.2 431.5,411 432.4,411.3 433.3,411 434.3,410.3 435.2,411.6 436.1,412.1 437,412 437.9,411.9 438.8,412.5 439.7,413.3 440.6,413.6 441.5,412.8 442.4,412.1 443.3,411.7 444.2,409.5 445.1,407.6 446.1,406.8 447,405.4 447.9,404.8 448.8,403.2 449.7,403.1 450.6,403.6 451.5,406.2 452.4,406.2 453.3,406.7 454.2,405.1 455.1,402.2 456,396 457,391.4 457.9,388.6 458.8,388 459.7,387.4 460.6,389.7 461.5,393.5 462.4,394.6 463.3,393.9 464.2,392.9 465.1,389.9 466,383.5 466.9,376.3 467.8,369.7 468.8,360 469.7,351.2 470.6,345.7 471.5,345.2 472.4,344 473.3,348.4 474.2,350 475.1,354 476,352 476.9,353.9 477.8,354.9 478.7,357.7 479.7,357.7 480.6,361.6 481.5,362.7 482.4,364.2 483.3,367.3 484.2,368.9 485.1,370.2 486,372.4 486.9,371.4 487.8,372 488.7,372.5 489.6,375.3 490.5,375.9 491.5,378.4 492.4,378.1 493.3,382.8 494.2,383 495.1,385.1 496,387.3 496.9,392.6 497.8,394.2 498.7,399.9 499.6,405.1 500.5,410.8 501.4,411.5 502.4,412.5 503.3,409.6 504.2,407.2 505.1,403.6 506,402.7 506.9,403.1 507.8,403.2 508.7,403.4 509.6,403.9 510.5,403.8 511.4,402.3 512.3,402.7 513.2,402 514.2,402.3 515.1,403.6 516,403.3 516.9,401.7 517.8,400.2 518.7,395.5 519.6,390.9 520.5,387.8 521.4,385.7 522.3,383.5 523.2,382.1 524.1,380.1 525.1,378.6 526,377.1 526.9,375.1 527.8,376.7 528.7,377.8 529.6,379.5 530.5,384 531.4,388.1 532.3,390.1 533.2,393 534.1,395 535,394.5 535.9,393.5 536.9,392.3 537.8,391.2 538.7,390.1 539.6,388 540.5,387.8 541.4,386.9 542.3,384 543.2,381 544.1,376.5 545,374.3 545.9,371.8 546.8,371.7 547.8,369.4 548.7,370.4 549.6,368.6 550.5,365.3 551.4,361 552.3,359.9 553.2,357.9 554.1,356.4 555,359.8 555.9,361.1 556.8,361.8 557.7,363.5 558.6,364 559.6,363.1 560.5,363.8 561.4,361.8 562.3,359.6 563.2,357.8 564.1,356.2 565,353.4 565.9,350.3 566.8,346.8 567.7,346.6 568.6,346.6 569.5,346.2 570.5,350.3 571.4,353.1 572.3,355.8 573.2,360.7 574.1,369.6 575,378.4 575.9,389.2 576.8,389.2 577.7,387.5 578.6,377.9 579.5,368.3 580.4,354.2 581.3,348.3 582.3,340.1 583.2,335.9 584.1,328.7 585,323.8 585.9,320.1 586.8,320 587.7,322 588.6,323 589.5,326.4 590.4,327.8 591.3,325 592.2,321.4 593.2,319.2 594.1,316.1 595,314.7 595.9,315.9 596.8,314.8 597.7,314 598.6,312.7 599.5,310.5 600.4,307.4 601.3,308 602.2,309.4 603.1,312.4 604,314.9 605,318.4 605.9,321.2 606.8,323.5 607.7,323.9 608.6,325.5 609.5,326.7 610.4,329.2 611.3,331.7 612.2,337.3 613.1,339.1 614,340.9 614.9,339.5 615.9,338.8 616.8,335.2 617.7,335.8 618.6,335 619.5,334.7 620.4,333.5 621.3,332 622.2,329.9 623.1,327.5 624,326.3 624.9,324.1 625.8,323 626.7,320.2 627.7,318.6 628.6,316.6 629.5,316.1 630.4,316.3 631.3,317.3 632.2,317.4 633.1,318.8 634,318.8 634.9,319.4 635.8,320.6 636.7,322.2 637.6,324.1 638.6,325.2 639.5,327.5 640.4,330 641.3,333.6 642.2,335.8 643.1,339.6 644,341 644.9,342.8 645.8,342.6 646.7,343.1 647.6,342 648.5,341.9 649.4,340.7 650.4,339.4 651.3,337.3 652.2,335.1 653.1,330.6 654,325.9 654.9,322.1 655.8,317.4 656.7,314.6 657.6,310.6 658.5,305.9 659.4,300.3 660.3,296.8 661.2,292.4 662.2,290.4 663.1,287.7 664,287.6 664.9,287.5 665.8,288.5 666.7,287.4 667.6,289.3 668.5,291.1 669.4,288.2 670.3,283.5 671.2,283.4 672.1,279.4 673.1,274.2 674,274 674.9,275.1 675.8,274 676.7,275 677.6,276.3 678.5,277.8 679.4,278.6 680.3,281.2 681.2,283.1 682.1,285.6 683,286.3 683.9,288.2 684.9,287.4 685.8,287.9 686.7,288.1 687.6,287.5 688.5,287 689.4,286.5 690.3,286.8 691.2,287.4 692.1,287.2 693,285.5 693.9,285.1 694.8,284 695.8,282.6 696.7,282.6 697.6,283.4 698.5,285 699.4,286.2 700.3,286.9 701.2,288.1 702.1,288.8 703,289 703.9,289.7 704.8,289.9 705.7,288.9 706.6,288.5 707.6,287.8 708.5,286.6 709.4,286.4 710.3,287.7 711.2,291.1 712.1,290.5 713,291.1 713.9,289.4 714.8,286.3 715.7,281.1 716.6,279.6 717.5,275.4 718.5,272.9 719.4,270.8 720.3,269.4 721.2,270.2 722.1,273.5 723,277 723.9,279.6 724.8,280.6 725.7,280.3 726.6,279 727.5,276.8 728.4,275.5 729.3,275.5 730.3,274.9 731.2,274 732.1,274.1 733,274.7 733.9,276.7 734.8,278.3 735.7,281.1 736.6,283.7 737.5,286.1 738.4,288.2 739.3,290.1 740.2,291.1 741.2,291.5 742.1,292.1 743,289.8 743.9,287.5 744.8,285 745.7,283.4 746.6,281.6 747.5,281.4 748.4,282 749.3,283.4 750.2,284.2 751.1,284.5 752,284.2 753,282.5 753.9,281.3 754.8,280 755.7,278.6 756.6,277.3 757.5,276.9 758.4,275.7 759.3,274.2 760.2,273 761.1,272 762,270.1 762.9,269.5 763.9,270 764.8,269.4 765.7,268.8 766.6,269.4 767.5,267.7 768.4,266.9 769.3,268.8 770.2,270.2 771.1,271.8 772,274.8 772.9,275.4 773.8,275.3 774.7,274.8 775.7,275.5 776.6,275.7 777.5,277.1 778.4,277.6 779.3,279.4 780.2,277.6 781.1,275.3 782,274.6 782.9,274.3 783.8,274.3 784.7,275.7 785.6,279.4 786.6,281.4 787.5,282.2 788.4,281.3 789.3,279.8 790.2,273.8 791.1,268.8 792,262.1 792.9,254.8 793.8,247.5 794.7,242.5 795.6,236.5 796.5,230.9 797.4,224.4 798.4,218.6 799.3,213.2 800.2,205.6 801.1,194.8 802,186.6 802.9,179.3 803.8,170.5 804.7,165.2 805.6,166.1 806.5,164.8 807.4,164.1 808.3,163.9 809.3,164.5 810.2,163.5 811.1,164.1 812,165.8 812.9,165.9 813.8,167.7 814.7,172.3 815.6,176.1 816.5,176.6 817.4,177.8 818.3,178.3 819.2,175.3 820.1,175.3 821.1,175.5 822,178 822.9,178.2 823.8,181.1 824.7,182.7 825.6,188.4 826.5,191.6 827.4,194.5 828.3,195.2 829.2,196.5 830.1,193.7 831,193.4 832,193.1 832.9,193.1 833.8,192 834.7,191.3 835.6,189.4 836.5,187.7 837.4,186.2 838.3,185.9 839.2,187.3 840.1,188.8 841,190.6 841.9,193.8 842.8,193.4 843.8,192.7 844.7,192.9 845.6,194 846.5,196.3 847.4,198.8 848.3,201.1 849.2,202.9 850.1,199.3 851,193.8 851.9,188.6 852.8,182.2 853.7,174.9 854.7,173.3 855.6,170.7 856.5,167 857.4,166 858.3,164.4 859.2,158.3 860.1,151.7 861,148.1 861.9,141.8 862.8,136.9 863.7,135.2 864.6,135 865.5,132.5 866.5,130.5 867.4,130.1 868.3,131 869.2,129.8 870.1,131.3 871,132.5 871.9,131.3 872.8,130.6 873.7,130.6 874.6,129.1 875.5,129 876.4,130.4 877.4,128 878.3,128.4 879.2,128.9 880.1,128 881,124.7 881.9,123.4 882.8,120.5 883.7,119.4" fill="none" stroke="rgba(70,135,230,0.5)" stroke-width="2" stroke-linejoin="round" stroke-linecap="round"/>
<polyline points="-5.2,535.2 -4.3,535 -3.4,535.3 -2.5,535.6 -1.6,535.3 -0.7,534.7 0.2,534 1.1,533.6 2.1,532.9 3,532.4 3.9,532.2 4.8,532.6 5.7,533.3 6.6,534.2 7.5,533.8 8.4,534.4 9.3,535.3 10.2,535.6 11.1,535.8 12,536.3 12.9,536.5 13.9,536.8 14.8,536.8 15.7,535 16.6,534.3 17.5,534.1 18.4,533.3 19.3,532.2 20.2,532.4 21.1,532.8 22,534.8 22.9,536 23.8,537.2 24.8,538.2 25.7,540 26.6,541.7 27.5,543.3 28.4,543.6 29.3,544.3 30.2,544.2 31.1,544.3 32,543.8 32.9,542.5 33.8,541 34.7,539.9 35.6,539.6 36.6,539.5 37.5,539.8 38.4,540.1 39.3,540.6 40.2,541 41.1,541.2 42,540.5 42.9,540.2 43.8,539.6 44.7,539.6 45.6,539.7 46.5,539.8 47.5,539.5 48.4,539 49.3,538 50.2,537.5 51.1,535.4 52,532.9 52.9,530.3 53.8,527.9 54.7,526.3 55.6,525.8 56.5,524.7 57.4,525.4 58.3,525.8 59.3,526.7 60.2,527.4 61.1,528.1 62,528 62.9,527.9 63.8,527 64.7,527.5 65.6,527.3 66.5,527 67.4,525.4 68.3,523.9 69.2,521.5 70.2,519.2 71.1,516.4 72,513.5 72.9,512.8 73.8,514.2 74.7,514.1 75.6,516.6 76.5,519.7 77.4,522.6 78.3,527.1 79.2,529.5 80.1,529.6 81,530.8 82,530.1 82.9,529.7 83.8,529.6 84.7,528.2 85.6,526.8 86.5,525.9 87.4,525.4 88.3,525.7 89.2,525.2 90.1,524.8 91,524.7 91.9,525 92.9,525.1 93.8,525.1 94.7,524.3 95.6,523.6 96.5,522.5 97.4,520.9 98.3,519.4 99.2,519.4 100.1,519.3 101,519.7 101.9,520.4 102.8,522 103.7,523.4 104.7,525 105.6,526.1 106.5,527.1 107.4,527.8 108.3,528.5 109.2,527.9 110.1,528.3 111,528.4 111.9,528.1 112.8,528.5 113.7,528.3 114.6,527.7 115.6,528.3 116.5,527.1 117.4,525.9 118.3,524.1 119.2,522 120.1,520.3 121,519.5 121.9,518.3 122.8,516.8 123.7,515.9 124.6,514.4 125.5,512.9 126.4,511.3 127.4,508.7 128.3,506.4 129.2,505.6 130.1,504.4 131,504.6 131.9,505.9 132.8,506.9 133.7,508.7 134.6,509.8 135.5,511.6 136.4,513 137.3,513.9 138.2,514.4 139.2,515.9 140.1,517 141,518.2 141.9,519.6 142.8,521.5 143.7,523.5 144.6,524.6 145.5,525.2 146.4,526.1 147.3,526.8 148.2,528.1 149.1,529.7 150.1,530.2 151,531.3 151.9,533 152.8,534.4 153.7,536.3 154.6,537 155.5,537.1 156.4,539.7 157.3,543.3 158.2,546.8 159.1,550.5 160,552.7 160.9,554.7 161.9,556.4 162.8,557.8 163.7,558 164.6,557.3 165.5,557.7 166.4,558.3 167.3,558.5 168.2,559.7 169.1,558.6 170,557.3 170.9,557.4 171.8,556.3 172.8,555 173.7,554.6 174.6,553.5 175.5,553.8 176.4,554.1 177.3,552.9 178.2,552.1 179.1,551.3 180,549.5 180.9,548.6 181.8,547.1 182.7,545.9 183.6,545.3 184.6,543.8 185.5,543.2 186.4,542.3 187.3,540.3 188.2,536.7 189.1,532.9 190,527.8 190.9,522.7 191.8,519 192.7,516.3 193.6,512.9 194.5,512.1 195.5,510.9 196.4,512 197.3,513.4 198.2,513.2 199.1,513.1 200,515.3 200.9,517.6 201.8,526.4 202.7,533.7 203.6,548.4 204.5,560.7 205.4,574.5 206.3,584.5 207.3,593.8 208.2,597.1 209.1,600.1 210,596.4 210.9,594.9 211.8,591 212.7,589.2 213.6,588.6 214.5,587.5 215.4,587.1 216.3,586.1 217.2,583.9 218.2,582.7 219.1,582.7 220,581.7 220.9,580.1 221.8,579.6 222.7,579.2 223.6,580.8 224.5,581.4 225.4,581.3 226.3,580.8 227.2,582.1 228.1,583.2 229,584.7 230,587.1 230.9,591.6 231.8,594.8 232.7,598.8 233.6,600.9 234.5,601.7 235.4,602 236.3,601.6 237.2,599.1 238.1,596.5 239,594.5 239.9,593.1 240.9,592 241.8,589.7 242.7,587.3 243.6,585.7 244.5,585.6 245.4,584 246.3,583.8 247.2,584.8 248.1,584.5 249,582.7 249.9,581.1 250.8,579.9 251.7,578.8 252.7,576 253.6,571.9 254.5,570.1 255.4,569.8 256.3,569.8 257.2,568.4 258.1,567.9 259,568 259.9,568.4 260.8,568.2 261.7,567.6 262.6,565.8 263.6,563.8 264.5,560.8 265.4,557.6 266.3,554.6 267.2,552.1 268.1,550.3 269,548.9 269.9,548.4 270.8,548.5 271.7,548.1 272.6,546.7 273.5,545 274.4,542.4 275.4,540.3 276.3,538.7 277.2,536.3 278.1,533.9 279,532.4 279.9,530.5 280.8,528.4 281.7,526.3 282.6,523.5 283.5,521.4 284.4,520 285.3,519.1 286.3,520.3 287.2,519.7 288.1,520.8 289,520.1 289.9,518.6 290.8,516.1 291.7,515.5 292.6,513.8 293.5,512.2 294.4,510.7 295.3,509.7 296.2,509.8 297.1,510.7 298.1,509.9 299,508.7 299.9,509.3 300.8,508.2 301.7,509.2 302.6,509.2 303.5,509.4 304.4,508.8 305.3,509 306.2,510.2 307.1,510.7 308,510.4 309,510.3 309.9,509.6 310.8,509.4 311.7,508.6 312.6,508 313.5,507.9 314.4,507.5 315.3,505 316.2,500.9 317.1,494.1 318,488.7 318.9,481.6 319.8,473.2 320.8,464.4 321.7,458.7 322.6,455.3 323.5,452.7 324.4,447.4 325.3,440.7 326.2,436.4 327.1,434.9 328,431.5 328.9,428.3 329.8,425 330.7,424.3 331.7,424.8 332.6,425.3 333.5,424.7 334.4,425.4 335.3,425.2 336.2,426 337.1,425.6 338,424.4 338.9,420.3 339.8,417.5 340.7,412.4 341.6,408.1 342.5,403.3 343.5,397.1 344.4,392.9 345.3,388.9 346.2,383.7 347.1,379.6 348,375.9 348.9,372.4 349.8,371.7 350.7,369.4 351.6,370 352.5,369.6 353.4,370.4 354.4,372.8 355.3,375.3 356.2,377.1 357.1,380.2 358,382.5 358.9,384.5 359.8,387.7 360.7,388.7 361.6,392.4 362.5,397.3 363.4,402 364.3,406.3 365.2,409.6 366.2,413.4 367.1,415.4 368,415.4 368.9,414.4 369.8,413.7 370.7,412 371.6,412.4 372.5,410.5 373.4,409.4 374.3,409.7 375.2,409.6 376.1,408.6 377.1,406.9 378,401.9 378.9,400 379.8,399.5 380.7,396.9 381.6,393.5 382.5,391.5 383.4,391.3 384.3,392.7 385.2,392.1 386.1,390.7 387,389.3 387.9,389.4 388.9,388.1 389.8,386.8 390.7,386 391.6,385.2 392.5,384.8 393.4,384.7 394.3,383.3 395.2,382.8 396.1,381.9 397,382.5 397.9,381.1 398.8,380.3 399.8,378.3 400.7,377.8 401.6,378.2 402.5,378.3 403.4,377.5 404.3,378.3 405.2,379 406.1,382 407,382.7 407.9,383.9 408.8,385.2 409.7,386.8 410.6,388.7 411.6,390.7 412.5,391.5 413.4,394.2 414.3,396 415.2,397.9 416.1,400.4 417,402 417.9,402.5 418.8,403.7 419.7,404.3 420.6,404.2 421.5,404.5 422.4,403.4 423.4,402.1 424.3,401.2 425.2,400.3 426.1,398.8 427,397.7 427.9,396.9 428.8,396.6 429.7,398.9 430.6,401.7 431.5,403.7 432.4,405.5 433.3,407.3 434.3,409.7 435.2,412 436.1,411.3 437,411 437.9,410.8 438.8,411.7 439.7,412.6 440.6,412.1 441.5,412.6 442.4,413.1 443.3,412.5 444.2,412.6 445.1,411.9 446.1,410.9 447,409.7 447.9,407.9 448.8,406.7 449.7,406.2 450.6,404.6 451.5,403.5 452.4,403.6 453.3,405.6 454.2,405.8 455.1,405.5 456,403.7 457,402.9 457.9,400.6 458.8,397.1 459.7,392.9 460.6,390.7 461.5,389.2 462.4,389.6 463.3,390.9 464.2,391.9 465.1,392.5 466,392.3 466.9,390.9 467.8,388.1 468.8,382.4 469.7,375.5 470.6,367.6 471.5,360.4 472.4,354.3 473.3,350.4 474.2,347.3 475.1,347.6 476,346.3 476.9,350 477.8,351 478.7,353.2 479.7,354.6 480.6,356.1 481.5,356.7 482.4,359.3 483.3,359.5 484.2,363.4 485.1,365.6 486,366.7 486.9,368.2 487.8,370 488.7,370.3 489.6,372.2 490.5,372.5 491.5,374 492.4,375 493.3,376.2 494.2,376.4 495.1,380.7 496,381.8 496.9,384 497.8,384.8 498.7,388.2 499.6,392 500.5,397.4 501.4,400 502.4,404.6 503.3,407 504.2,409.9 505.1,409.6 506,409.3 506.9,407.2 507.8,405.3 508.7,404.5 509.6,403.6 510.5,402.8 511.4,403.1 512.3,402.9 513.2,403.6 514.2,403.6 515.1,402 516,402.5 516.9,403 517.8,403.1 518.7,402.1 519.6,400.6 520.5,397.4 521.4,395.1 522.3,392.7 523.2,389.4 524.1,386.5 525.1,383.4 526,380.7 526.9,380.6 527.8,379.5 528.7,377.4 529.6,376.9 530.5,376.6 531.4,378.8 532.3,382.3 533.2,384.2 534.1,386.1 535,389.4 535.9,391.9 536.9,394.2 537.8,394.2 538.7,392.1 539.6,391.6 540.5,391.9 541.4,390.6 542.3,389 543.2,386.7 544.1,384.8 545,383.9 545.9,380.2 546.8,377.7 547.8,375.1 548.7,373.3 549.6,371.4 550.5,370.5 551.4,368.8 552.3,367.1 553.2,363.8 554.1,362.9 555,360.6 555.9,359.5 556.8,359.5 557.7,358.4 558.6,360.4 559.6,362.4 560.5,362.4 561.4,363.2 562.3,363.8 563.2,361.9 564.1,361.3 565,359.6 565.9,358 566.8,356.2 567.7,352.7 568.6,349.2 569.5,348.8 570.5,348.7 571.4,347.9 572.3,348.4 573.2,348.9 574.1,352.7 575,358.6 575.9,364.3 576.8,371.2 577.7,379.6 578.6,380.5 579.5,383.3 580.4,380.1 581.3,376.6 582.3,368.6 583.2,359 584.1,348.2 585,342 585.9,334.6 586.8,330 587.7,324.6 588.6,323.8 589.5,323.2 590.4,322.4 591.3,323.3 592.2,323.9 593.2,324.6 594.1,324.2 595,321.8 595.9,319 596.8,317.9 597.7,317.1 598.6,314.9 599.5,314 600.4,312.8 601.3,311.7 602.2,310.8 603.1,310.1 604,309.3 605,311.1 605.9,312.3 606.8,314.9 607.7,317.7 608.6,320.8 609.5,322.4 610.4,323.8 611.3,325 612.2,327.9 613.1,330.4 614,334 614.9,335 615.9,337.2 616.8,338 617.7,339.1 618.6,338.3 619.5,337.9 620.4,335.5 621.3,334.8 622.2,333.8 623.1,333 624,331.6 624.9,330 625.8,328 626.7,326 627.7,324.7 628.6,322.1 629.5,320.5 630.4,318.5 631.3,317.9 632.2,317.5 633.1,317.2 634,316.4 634.9,317.5 635.8,318 636.7,319.5 637.6,320.4 638.6,320.7 639.5,322.4 640.4,323.6 641.3,325.7 642.2,328.4 643.1,330.8 644,333.2 644.9,336 645.8,337.8 646.7,340.9 647.6,341.6 648.5,342.6 649.4,342 650.4,342.2 651.3,341.8 652.2,340.4 653.1,338.7 654,336.6 654.9,333.3 655.8,330.3 656.7,326.2 657.6,322 658.5,318.9 659.4,314.2 660.3,309.4 661.2,304.6 662.2,301.2 663.1,297.8 664,294.9 664.9,290.2 665.8,288.1 666.7,288.1 667.6,289.4 668.5,288.1 669.4,287.9 670.3,288.7 671.2,288.4 672.1,286.5 673.1,285.3 674,281.4 674.9,279.3 675.8,277.5 676.7,275 677.6,275.1 678.5,275.3 679.4,274.2 680.3,276.4 681.2,278.2 682.1,280.2 683,281.1 683.9,282.5 684.9,284.5 685.8,286.7 686.7,287 687.6,287.7 688.5,287.4 689.4,287.6 690.3,287.7 691.2,287.1 692.1,286.6 693,287.5 693.9,287 694.8,285.9 695.8,285.4 696.7,284.5 697.6,284.7 698.5,284 699.4,283 700.3,283.9 701.2,284.9 702.1,286 703,287 703.9,287.5 704.8,288.5 705.7,289.4 706.6,289.4 707.6,289 708.5,288.6 709.4,288.2 710.3,287.8 711.2,287.5 712.1,287.6 713,289.5 713.9,289.4 714.8,289.7 715.7,288.7 716.6,287.4 717.5,285.7 718.5,283.6 719.4,278.4 720.3,276.1 721.2,272.9 722.1,271.5 723,272.1 723.9,273.1 724.8,274.3 725.7,276 726.6,276.9 727.5,278.8 728.4,280 729.3,278.9 730.3,277.3 731.2,275.8 732.1,275.4 733,275.3 733.9,274.5 734.8,274.2 735.7,275.8 736.6,277.5 737.5,279.3 738.4,280.8 739.3,282.8 740.2,285.8 741.2,288.5 742.1,289.6 743,290.1 743.9,290.7 744.8,290.2 745.7,289.5 746.6,287.4 747.5,285.4 748.4,283.9 749.3,283 750.2,282.3 751.1,282.8 752,283 753,283.5 753.9,283.5 754.8,282.9 755.7,282.7 756.6,281.5 757.5,280.1 758.4,278.7 759.3,277.5 760.2,276.6 761.1,275.7 762,274.2 762.9,273 763.9,271.4 764.8,271 765.7,270.8 766.6,269.6 767.5,269.1 768.4,268.9 769.3,268 770.2,268.5 771.1,269.2 772,269.2 772.9,270.6 773.8,272.3 774.7,272.8 775.7,274.6 776.6,274.8 777.5,275.3 778.4,276.2 779.3,276.6 780.2,276.5 781.1,277.7 782,276.9 782.9,276.6 783.8,276 784.7,275.6 785.6,275.7 786.6,275.6 787.5,276.5 788.4,278.7 789.3,280.5 790.2,280.5 791.1,279.5 792,276.2 792.9,273.8 793.8,268.1 794.7,261.5 795.6,254.7 796.5,248.5 797.4,242.9 798.4,237.5 799.3,229.8 800.2,223.6 801.1,218.8 802,213 802.9,203.4 803.8,194.1 804.7,186.8 805.6,180.3 806.5,174.8 807.4,169.7 808.3,165 809.3,164.9 810.2,164.1 811.1,164.3 812,164.7 812.9,164.2 813.8,164.8 814.7,164.9 815.6,166.8 816.5,170.6 817.4,172.5 818.3,174.1 819.2,174.7 820.1,175.7 821.1,177.3 822,177.9 822.9,176.4 823.8,176 824.7,176.9 825.6,179.7 826.5,181.1 827.4,185.7 828.3,187.6 829.2,190.5 830.1,192.1 831,194.1 832,194.7 832.9,195.3 833.8,193.8 834.7,193.1 835.6,192.3 836.5,191.9 837.4,190.3 838.3,189.5 839.2,187.9 840.1,187.2 841,187.8 841.9,188 842.8,189 843.8,191.1 844.7,191.3 845.6,192.5 846.5,193.1 847.4,193.8 848.3,196.4 849.2,197.2 850.1,197.7 851,199.8 851.9,198.5 852.8,197 853.7,193.3 854.7,187.6 855.6,182.7 856.5,178.7 857.4,174 858.3,170.2 859.2,167.8 860.1,165.4 861,161.6 861.9,157.4 862.8,152.2 863.7,147.1 864.6,144 865.5,139.6 866.5,136.4 867.4,133.8 868.3,132 869.2,131.2 870.1,131.8 871,131.3 871.9,131 872.8,130.2 873.7,130.3 874.6,131.9 875.5,131.7 876.4,129.7 877.4,129.6 878.3,129.7 879.2,128.7 880.1,129.6 881,128.5 881.9,127.7 882.8,126.5 883.7,124.7 884.6,122.5 885.5,122.3" fill="none" stroke="rgba(70,135,230,0.46)" stroke-width="2" stroke-linejoin="round" stroke-linecap="round"/>
<polyline points="-2.5,535.2 -1.6,535 -0.7,535.3 0.2,535.5 1.1,535.3 2.1,534.8 3,534.2 3.9,533.9 4.8,533.2 5.7,533.1 6.6,533.3 7.5,533.1 8.4,533 9.3,533.4 10.2,533.3 11.1,533.6 12,534.5 12.9,535.4 13.9,535.7 14.8,536.2 15.7,536.4 16.6,536 17.5,535.6 18.4,535.4 19.3,535.3 20.2,534.8 21.1,534.4 22,533.6 22.9,532.9 23.8,532.8 24.8,533.9 25.7,534.7 26.6,536.5 27.5,537.5 28.4,538.2 29.3,539.4 30.2,541.4 31.1,542.6 32,543.7 32.9,543.8 33.8,543.9 34.7,543.3 35.6,542.8 36.6,542.2 37.5,541.3 38.4,540.9 39.3,540.5 40.2,540.4 41.1,540.1 42,539.9 42.9,540 43.8,540.3 44.7,540.5 45.6,540.7 46.5,540.4 47.5,540.3 48.4,539.8 49.3,539.7 50.2,539.4 51.1,539 52,538.3 52.9,538 53.8,536.6 54.7,534.6 55.6,532.5 56.5,530.3 57.4,528.5 58.3,527.7 59.3,526.9 60.2,526.8 61.1,525.5 62,525.6 62.9,526 63.8,526.8 64.7,527.7 65.6,528.1 66.5,527.7 67.4,527.6 68.3,527.1 69.2,527 70.2,525.8 71.1,525 72,523 72.9,520.8 73.8,518.6 74.7,516.6 75.6,515.5 76.5,515.6 77.4,515 78.3,516.1 79.2,517.6 80.1,519.5 81,522.8 82,525.8 82.9,528.2 83.8,529 84.7,528.5 85.6,529.7 86.5,529.6 87.4,529.4 88.3,529 89.2,527.3 90.1,525.9 91,525.4 91.9,525.3 92.9,525.6 93.8,525.5 94.7,525.4 95.6,524.9 96.5,524.5 97.4,524.2 98.3,523.9 99.2,523.1 100.1,522.1 101,521.2 101.9,520.8 102.8,520.1 103.7,519.9 104.7,520.3 105.6,521.3 106.5,521.9 107.4,523.1 108.3,524.8 109.2,526.1 110.1,526.5 111,527.5 111.9,527.7 112.8,528.1 113.7,528.1 114.6,528.4 115.6,528.8 116.5,528.2 117.4,528 118.3,528 119.2,527 120.1,526.5 121,525.2 121.9,523.7 122.8,522.2 123.7,520.9 124.6,520.3 125.5,518.5 126.4,516.9 127.4,515.3 128.3,513.6 129.2,512.2 130.1,510.6 131,509.5 131.9,507.8 132.8,506 133.7,505.8 134.6,505.8 135.5,506.3 136.4,507.3 137.3,508.4 138.2,510.1 139.2,511.1 140.1,512.2 141,513.6 141.9,515.1 142.8,515.9 143.7,517.2 144.6,518.6 145.5,520.2 146.4,521.5 147.3,522.6 148.2,523.9 149.1,525 150.1,525.6 151,527.3 151.9,529.1 152.8,529.7 153.7,530.2 154.6,531.3 155.5,532.7 156.4,534.3 157.3,535.8 158.2,537.2 159.1,538.7 160,540.8 160.9,544.2 161.9,547.6 162.8,549.5 163.7,551.6 164.6,552.8 165.5,554.9 166.4,557 167.3,557.9 168.2,558.8 169.1,558.5 170,557.8 170.9,558.3 171.8,557.9 172.8,557.8 173.7,557.6 174.6,557.4 175.5,556.7 176.4,555.4 177.3,554.6 178.2,554.2 179.1,553.4 180,553.2 180.9,553.3 181.8,552 182.7,550.1 183.6,549.5 184.6,548.3 185.5,547.6 186.4,546.6 187.3,545.3 188.2,544.4 189.1,542.5 190,541 190.9,538.4 191.8,535.4 192.7,531.6 193.6,527.3 194.5,524 195.5,521.1 196.4,517.5 197.3,514.8 198.2,512.5 199.1,512.5 200,512.1 200.9,512.6 201.8,513.6 202.7,514.5 203.6,515.8 204.5,523 205.4,529.3 206.3,541.2 207.3,550.5 208.2,561.1 209.1,570 210,578.7 210.9,586.7 211.8,593.5 212.7,595.7 213.6,598.1 214.5,594.2 215.4,592.2 216.3,589.6 217.2,589 218.2,588.2 219.1,587.1 220,585.5 220.9,583.6 221.8,582.7 222.7,582.4 223.6,581.9 224.5,581.3 225.4,580.7 226.3,580.6 227.2,579.9 228.1,580.6 229,580.9 230,581.4 230.9,582.4 231.8,584.4 232.7,586.5 233.6,589.5 234.5,591.5 235.4,594.4 236.3,596.7 237.2,598.7 238.1,599.8 239,600.8 239.9,600.7 240.9,598.8 241.8,596.7 242.7,595.4 243.6,593.4 244.5,591.2 245.4,589.6 246.3,588 247.2,586.3 248.1,585 249,585.5 249.9,585.8 250.8,584.5 251.7,582.4 252.7,581.3 253.6,580.5 254.5,579.6 255.4,578 256.3,576.4 257.2,573.9 258.1,570.8 259,569.8 259.9,569.4 260.8,569.4 261.7,568.7 262.6,568.3 263.6,567.8 264.5,567.5 265.4,566.4 266.3,564.7 267.2,562.4 268.1,560.3 269,558 269.9,555.5 270.8,553.4 271.7,551.4 272.6,549.7 273.5,548.9 274.4,548.1 275.4,547 276.3,545.6 277.2,543.9 278.1,542.2 279,540.7 279.9,539.2 280.8,536.9 281.7,534.6 282.6,531.9 283.5,529.6 284.4,527.7 285.3,526 286.3,524.4 287.2,522.4 288.1,521.2 289,521.4 289.9,519.7 290.8,520.1 291.7,519.5 292.6,518.5 293.5,516.6 294.4,516.6 295.3,516.5 296.2,514.3 297.1,512.7 298.1,511.7 299,509.9 299.9,509.3 300.8,509.8 301.7,510.7 302.6,509.5 303.5,508.4 304.4,509.4 305.3,508.7 306.2,509.1 307.1,509.1 308,509.5 309,509.7 309.9,509.9 310.8,510.2 311.7,510.3 312.6,509.4 313.5,509.2 314.4,508.9 315.3,509.1 316.2,509.1 317.1,508.1 318,505.9 318.9,502 319.8,496.6 320.8,492.6 321.7,487.5 322.6,481.5 323.5,474.2 324.4,467.6 325.3,461.4 326.2,455.9 327.1,451 328,445.9 328.9,440.8 329.8,437.9 330.7,435.2 331.7,433.3 332.6,429.7 333.5,427 334.4,424.2 335.3,423.7 336.2,425.5 337.1,426.6 338,425.7 338.9,425.4 339.8,424.8 340.7,423.7 341.6,420.5 342.5,419.9 343.5,416.6 344.4,412.8 345.3,408.3 346.2,403 347.1,398 348,392 348.9,388.2 349.8,384.9 350.7,380.5 351.6,377.1 352.5,374.7 353.4,371.6 354.4,370.8 355.3,370.1 356.2,370.5 357.1,372.1 358,373.8 358.9,375.6 359.8,377.7 360.7,379.2 361.6,381.8 362.5,384.3 363.4,386.9 364.3,390.9 365.2,394.6 366.2,398.5 367.1,401.9 368,404.6 368.9,408.4 369.8,411 370.7,412.5 371.6,414.6 372.5,415 373.4,413.4 374.3,412.7 375.2,411.7 376.1,410.8 377.1,409.6 378,410.2 378.9,409.8 379.8,407.6 380.7,403.5 381.6,402.3 382.5,400.8 383.4,399 384.3,397.8 385.2,395.6 386.1,393.4 387,391.1 387.9,390.8 388.9,392.1 389.8,390.7 390.7,389.9 391.6,388.8 392.5,388.2 393.4,386.8 394.3,386 395.2,385.9 396.1,384.9 397,384.1 397.9,383.8 398.8,382.3 399.8,382.4 400.7,381.5 401.6,381.5 402.5,379.6 403.4,378.7 404.3,378.7 405.2,378.4 406.1,378.3 407,378.7 407.9,378.8 408.8,380.3 409.7,380.7 410.6,383.1 411.6,384.2 412.5,385 413.4,386.8 414.3,389.1 415.2,390.6 416.1,392.5 417,393.9 417.9,395.9 418.8,397.9 419.7,399.9 420.6,401.3 421.5,402.3 422.4,403 423.4,403.8 424.3,403.9 425.2,403.7 426.1,403.2 427,401.9 427.9,401 428.8,400.1 429.7,399.1 430.6,398.2 431.5,397.7 432.4,398.9 433.3,400.5 434.3,402.2 435.2,403.5 436.1,404.5 437,406.7 437.9,408.8 438.8,410 439.7,411.7 440.6,411.4 441.5,411.2 442.4,411.4 443.3,411.9 444.2,413 445.1,412.7 446.1,412.2 447,412.4 447.9,411.9 448.8,411.5 449.7,410.3 450.6,409.3 451.5,408.5 452.4,407.2 453.3,405.8 454.2,404.9 455.1,404.6 456,405.4 457,405.4 457.9,405.2 458.8,404 459.7,402.8 460.6,400.5 461.5,398.8 462.4,397.2 463.3,395.3 464.2,392.4 465.1,391.3 466,391.5 466.9,391.3 467.8,390.7 468.8,390.7 469.7,390.5 470.6,388.6 471.5,384.8 472.4,380.9 473.3,374.2 474.2,367 475.1,361.5 476,357.8 476.9,353.7 477.8,351.1 478.7,348.4 479.7,349.1 480.6,347.9 481.5,350.3 482.4,353.2 483.3,355 484.2,356 485.1,357.7 486,358.3 486.9,361.2 487.8,362.4 488.7,365.4 489.6,366.7 490.5,368 491.5,368.8 492.4,370.4 493.3,371.5 494.2,373.7 495.1,374.5 496,375 496.9,375.5 497.8,378.5 498.7,379.6 499.6,382.1 500.5,383.4 501.4,386.7 502.4,389 503.3,392.9 504.2,397 505.1,401.6 506,402.6 506.9,405.3 507.8,406.5 508.7,408 509.6,407.7 510.5,407.4 511.4,407.1 512.3,405.5 513.2,403.9 514.2,403.5 515.1,402.5 516,403 516.9,403 517.8,403.1 518.7,403.3 519.6,402.8 520.5,403.1 521.4,402 522.3,401 523.2,398.7 524.1,396.5 525.1,394.8 526,392.9 526.9,390.6 527.8,386.7 528.7,383.6 529.6,382 530.5,380.1 531.4,379.2 532.3,378.8 533.2,378.1 534.1,378.5 535,380.4 535.9,382.6 536.9,384.3 537.8,386 538.7,388.4 539.6,391.1 540.5,391.9 541.4,392.4 542.3,392.5 543.2,391.9 544.1,391.1 545,390.7 545.9,389 546.8,386.4 547.8,384.4 548.7,381.7 549.6,380.6 550.5,378.3 551.4,376.2 552.3,374.1 553.2,372 554.1,370.5 555,367.9 555.9,365 556.8,364.8 557.7,362.9 558.6,361.9 559.6,361.2 560.5,360.4 561.4,360.1 562.3,360.1 563.2,361.2 564.1,362.4 565,362.6 565.9,362.2 566.8,361.8 567.7,360.1 568.6,359.7 569.5,357.9 570.5,354.9 571.4,352.3 572.3,351 573.2,350.2 574.1,349.3 575,349.7 575.9,349.6 576.8,350.7 577.7,354.2 578.6,360 579.5,367.3 580.4,373.3 581.3,374.4 582.3,377.1 583.2,375.3 584.1,375.7 585,372.4 585.9,367.5 586.8,360.8 587.7,351.7 588.6,342.1 589.5,336 590.4,330.1 591.3,328.6 592.2,326 593.2,324.8 594.1,323.9 595,323.2 595.9,322.5 596.8,321.9 597.7,322.2 598.6,321.7 599.5,320.2 600.4,319.1 601.3,317.4 602.2,315.3 603.1,313.3 604,312.2 605,311.3 605.9,311.2 606.8,311.6 607.7,312.1 608.6,311.6 609.5,313.3 610.4,315.1 611.3,317.6 612.2,319.5 613.1,321.7 614,323.7 614.9,326.1 615.9,328.3 616.8,332 617.7,333.2 618.6,334.6 619.5,335 620.4,336.6 621.3,337.4 622.2,338.3 623.1,337.9 624,336.7 624.9,334.5 625.8,333.4 626.7,332.3 627.7,331.2 628.6,329.7 629.5,328.3 630.4,326.3 631.3,324 632.2,322.3 633.1,320.3 634,319.5 634.9,318.8 635.8,318.3 636.7,317.3 637.6,317.4 638.6,317.1 639.5,318.3 640.4,319.4 641.3,320.5 642.2,321.8 643.1,322.1 644,324 644.9,326.4 645.8,328.7 646.7,331.2 647.6,333.3 648.5,335.4 649.4,337.8 650.4,339 651.3,341.2 652.2,341.3 653.1,342 654,341.8 654.9,341 655.8,339.9 656.7,338 657.6,335.2 658.5,332.5 659.4,329.3 660.3,326.3 661.2,322.9 662.2,318.5 663.1,313.9 664,308.8 664.9,305 665.8,301.7 666.7,298.8 667.6,294.8 668.5,292.2 669.4,289.9 670.3,289.4 671.2,288.5 672.1,288.7 673.1,289 674,287.6 674.9,285.6 675.8,286.1 676.7,284.2 677.6,281.7 678.5,279.5 679.4,278.8 680.3,277.6 681.2,275.2 682.1,275 683,276.3 683.9,276.1 684.9,278.6 685.8,280.1 686.7,281.4 687.6,282.6 688.5,284.1 689.4,285.4 690.3,286.6 691.2,287.1 692.1,287.5 693,287.3 693.9,287.3 694.8,287.3 695.8,287.8 696.7,286.9 697.6,286.3 698.5,285.7 699.4,285 700.3,285 701.2,284.4 702.1,284.6 703,284.7 703.9,284.3 704.8,284.9 705.7,285.8 706.6,286.7 707.6,287.5 708.5,288.3 709.4,288.9 710.3,288.9 711.2,288.6 712.1,288.4 713,288.1 713.9,287.9 714.8,288.3 715.7,289.7 716.6,288.9 717.5,288.8 718.5,288.2 719.4,287.1 720.3,286 721.2,285 722.1,282.7 723,280 723.9,275.8 724.8,274.2 725.7,273.4 726.6,273.9 727.5,274.8 728.4,275.1 729.3,274.8 730.3,276.1 731.2,277.3 732.1,278.1 733,278.4 733.9,277.7 734.8,276.9 735.7,275.6 736.6,275 737.5,275.2 738.4,275.7 739.3,276.5 740.2,278 741.2,279.6 742.1,281.1 743,283.1 743.9,285.4 744.8,287.5 745.7,288.9 746.6,289.7 747.5,289.4 748.4,289 749.3,288.2 750.2,287.4 751.1,286 752,284.6 753,284 753.9,283.7 754.8,283 755.7,283.1 756.6,282.8 757.5,282.6 758.4,282.5 759.3,282.1 760.2,281.5 761.1,280.2 762,278.9 762.9,277.8 763.9,276.4 764.8,275.2 765.7,274.3 766.6,272.7 767.5,272 768.4,271.7 769.3,270.8 770.2,269.9 771.1,269.2 772,268.4 772.9,268.3 773.8,269.1 774.7,269.9 775.7,270.4 776.6,271 777.5,271.6 778.4,272.7 779.3,272.9 780.2,274.7 781.1,275.9 782,276.2 782.9,276.8 783.8,277.2 784.7,276.3 785.6,275.9 786.6,275.8 787.5,276.5 788.4,276.6 789.3,276.3 790.2,277.1 791.1,278 792,278.1 792.9,278.6 793.8,278.8 794.7,276.7 795.6,274.9 796.5,271.2 797.4,267 798.4,261.1 799.3,255.1 800.2,249.5 801.1,243.2 802,236.3 802.9,230.4 803.8,224.2 804.7,218.2 805.6,209.8 806.5,202.4 807.4,195.3 808.3,187.5 809.3,181.7 810.2,177.4 811.1,172.5 812,168 812.9,164.4 813.8,164.9 814.7,164.6 815.6,164.1 816.5,165.4 817.4,164.8 818.3,165.8 819.2,168.8 820.1,170.8 821.1,172.4 822,172.2 822.9,174 823.8,175 824.7,176 825.6,177.7 826.5,177.9 827.4,177.3 828.3,177.8 829.2,179.4 830.1,183.6 831,185.3 832,187.9 832.9,188.9 833.8,191.1 834.7,192.4 835.6,193.8 836.5,194.6 837.4,194.7 838.3,193.1 839.2,192.2 840.1,190.9 841,190.4 841.9,188.9 842.8,188.7 843.8,188.8 844.7,188.6 845.6,189 846.5,190 847.4,189.9 848.3,190.6 849.2,191.5 850.1,193.4 851,195.7 851.9,196.3 852.8,197.4 853.7,198.3 854.7,196.4 855.6,195.9 856.5,194 857.4,191.5 858.3,187.7 859.2,183.6 860.1,180.3 861,175.1 861.9,171 862.8,168.3 863.7,163.9 864.6,159.8 865.5,156.1 866.5,152.6 867.4,148.1 868.3,144.2 869.2,142 870.1,137.5 871,133.7 871.9,132.5 872.8,132.7 873.7,131.9 874.6,131.7 875.5,131.3 876.4,130.3 877.4,130.2 878.3,130.8 879.2,130.9 880.1,130.6 881,130 881.9,129.2 882.8,129.2 883.7,128.9 884.6,128.8 885.5,126.7 886.4,125.2 887.3,124.4 888.2,123.5" fill="none" stroke="rgba(80,145,232,0.46)" stroke-width="2" stroke-linejoin="round" stroke-linecap="round"/>
<polyline points="1.1,535.2 2.1,535.1 3,535.3 3.9,535.5 4.8,535.2 5.7,534.9 6.6,534.4 7.5,534.2 8.4,533.6 9.3,533.5 10.2,533.5 11.1,533.6 12,533.8 12.9,533.7 13.9,533 14.8,533 15.7,533.9 16.6,534.6 17.5,535 18.4,536 19.3,536.2 20.2,536 21.1,535.7 22,535 22.9,534.6 23.8,535.1 24.8,535.3 25.7,534.3 26.6,533.9 27.5,533.8 28.4,534 29.3,534.4 30.2,535.4 31.1,536.2 32,537.4 32.9,538.6 33.8,539.7 34.7,540.6 35.6,542.1 36.6,542.9 37.5,543.5 38.4,543.1 39.3,542.7 40.2,542.1 41.1,541.7 42,541.8 42.9,541.5 43.8,541.3 44.7,540.9 45.6,540.4 46.5,540 47.5,539.8 48.4,539.8 49.3,540.1 50.2,540.4 51.1,540.7 52,540.4 52.9,540.2 53.8,539.5 54.7,539.1 55.6,538.4 56.5,538.1 57.4,537 58.3,535.5 59.3,533.9 60.2,532.1 61.1,530.6 62,529.6 62.9,528.6 63.8,528.1 64.7,527.1 65.6,526.7 66.5,525.7 67.4,525.9 68.3,526.5 69.2,527 70.2,527.5 71.1,527.8 72,527.6 72.9,527.2 73.8,525.9 74.7,525.4 75.6,523.8 76.5,522.3 77.4,520.3 78.3,518.4 79.2,517.5 80.1,517.8 81,516.9 82,517 82.9,517.7 83.8,518.6 84.7,520.4 85.6,522.6 86.5,524.4 87.4,526 88.3,527.5 89.2,528.4 90.1,528.4 91,529.4 91.9,529.1 92.9,528.4 93.8,527.8 94.7,526.6 95.6,525.7 96.5,525.3 97.4,525.5 98.3,525.9 99.2,525.5 100.1,524.9 101,524.1 101.9,523.7 102.8,523.2 103.7,522.7 104.7,521.9 105.6,521.8 106.5,521.4 107.4,521 108.3,520.8 109.2,521.2 110.1,521.6 111,522.3 111.9,523.3 112.8,524.3 113.7,525.4 114.6,526.6 115.6,526.6 116.5,527.3 117.4,527.8 118.3,528.2 119.2,528.4 120.1,528.5 121,528.3 121.9,528 122.8,527.3 123.7,526.6 124.6,525.4 125.5,524.6 126.4,523.4 127.4,522.6 128.3,521.8 129.2,519.9 130.1,518.7 131,517 131.9,514.8 132.8,513.3 133.7,511.6 134.6,510.6 135.5,509.5 136.4,508.6 137.3,507.6 138.2,506.9 139.2,507 140.1,507 141,507.6 141.9,508.7 142.8,509.7 143.7,510.9 144.6,512 145.5,513.6 146.4,515 147.3,516.3 148.2,517.5 149.1,519 150.1,520.3 151,521.4 151.9,522.2 152.8,523.3 153.7,524.5 154.6,526.2 155.5,527.8 156.4,528.7 157.3,529.7 158.2,530.7 159.1,531.6 160,532.6 160.9,534.1 161.9,535.4 162.8,537.4 163.7,540.2 164.6,542.6 165.5,544.7 166.4,547 167.3,549 168.2,550.2 169.1,552.2 170,554 170.9,555.5 171.8,557.8 172.8,558.8 173.7,558.7 174.6,558.5 175.5,557.4 176.4,557 177.3,557.2 178.2,557.8 179.1,557.1 180,556.5 180.9,556 181.8,554.9 182.7,554.3 183.6,553.7 184.6,552.9 185.5,552.4 186.4,551.5 187.3,550.5 188.2,549.1 189.1,548.5 190,547.7 190.9,546.8 191.8,545.7 192.7,544 193.6,542.4 194.5,539.2 195.5,536.9 196.4,533.9 197.3,530.3 198.2,527.8 199.1,525.1 200,521.8 200.9,519 201.8,516.3 202.7,514.7 203.6,513.2 204.5,512.9 205.4,512.5 206.3,513.8 207.3,515.8 208.2,521 209.1,525.7 210,535.8 210.9,543.8 211.8,552.9 212.7,559.9 213.6,566.9 214.5,574.4 215.4,581.1 216.3,587.4 217.2,593 218.2,594 219.1,595.3 220,592.5 220.9,591.5 221.8,589.1 222.7,588.4 223.6,586.7 224.5,584.9 225.4,584.2 226.3,583.2 227.2,582 228.1,581.9 229,582.1 230,581.8 230.9,581 231.8,580.5 232.7,579.8 233.6,580.9 234.5,582.2 235.4,583.4 236.3,585.2 237.2,588.3 238.1,590.2 239,592.3 239.9,593.6 240.9,595.1 241.8,596.6 242.7,598.5 243.6,599.1 244.5,598.6 245.4,598.5 246.3,597.4 247.2,595.4 248.1,593.4 249,591.2 249.9,589.5 250.8,588.4 251.7,587 252.7,586.1 253.6,586.3 254.5,585.8 255.4,583.7 256.3,581.9 257.2,580.7 258.1,580.1 259,578.9 259.9,577.5 260.8,575.9 261.7,574.6 262.6,573 263.6,570.3 264.5,569.5 265.4,569.5 266.3,569.4 267.2,568.4 268.1,567.5 269,566.4 269.9,565.1 270.8,563.5 271.7,561.7 272.6,559.8 273.5,558.1 274.4,556.3 275.4,554.3 276.3,552.3 277.2,551 278.1,549.3 279,547.7 279.9,546.1 280.8,544.6 281.7,543.3 282.6,542.2 283.5,540.9 284.4,538.9 285.3,537.2 286.3,534.7 287.2,531.9 288.1,529.4 289,527.4 289.9,525.9 290.8,524.6 291.7,523.7 292.6,523.1 293.5,521.3 294.4,521 295.3,519.5 296.2,518.3 297.1,516.8 298.1,516.8 299,516.8 299.9,515.4 300.8,515.1 301.7,513.5 302.6,511.6 303.5,511 304.4,509.9 305.3,509.6 306.2,509.5 307.1,510.1 308,509.5 309,508.7 309.9,509.3 310.8,508.7 311.7,509.2 312.6,509.8 313.5,510.1 314.4,509.8 315.3,509.8 316.2,509.4 317.1,509.4 318,508.9 318.9,509 319.8,509.2 320.8,509 321.7,507.2 322.6,503.5 323.5,498.9 324.4,495.1 325.3,490.7 326.2,486 327.1,480.4 328,475.4 328.9,469.9 329.8,463.7 330.7,456.8 331.7,449.8 332.6,445 333.5,442.7 334.4,439 335.3,436.1 336.2,433.1 337.1,431.3 338,428.2 338.9,425.9 339.8,424.9 340.7,425 341.6,426.2 342.5,426.4 343.5,425.3 344.4,423.7 345.3,420.8 346.2,420.1 347.1,417.5 348,415.6 348.9,412.4 349.8,407.8 350.7,403 351.6,397.7 352.5,393.2 353.4,388.2 354.4,384.8 355.3,382 356.2,378.7 357.1,375.6 358,373.4 358.9,371.8 359.8,371.1 360.7,372 361.6,373.3 362.5,374.5 363.4,376.1 364.3,377.6 365.2,379.4 366.2,381.3 367.1,384.3 368,387.6 368.9,392.1 369.8,396.2 370.7,398.9 371.6,401.2 372.5,404.4 373.4,406.6 374.3,408.6 375.2,411.2 376.1,412.7 377.1,413.8 378,413.9 378.9,412.8 379.8,411.3 380.7,410.7 381.6,411.2 382.5,409.7 383.4,408.4 384.3,405.3 385.2,403.7 386.1,402.3 387,401.1 387.9,399.2 388.9,397.6 389.8,396.9 390.7,394.5 391.6,392.5 392.5,390.9 393.4,389.8 394.3,391.2 395.2,390 396.1,388.8 397,387.6 397.9,387.2 398.8,386.6 399.8,385.6 400.7,385.2 401.6,384.1 402.5,383.2 403.4,383.3 404.3,382 405.2,381.6 406.1,380.2 407,380 407.9,379.7 408.8,379.1 409.7,378.7 410.6,378.8 411.6,379.2 412.5,380.3 413.4,380.2 414.3,381.5 415.2,382.2 416.1,384.1 417,385.7 417.9,387.2 418.8,388.7 419.7,390.8 420.6,392.7 421.5,394.2 422.4,395.8 423.4,398 424.3,399 425.2,400.5 426.1,401.9 427,402.6 427.9,403 428.8,403.4 429.7,403 430.6,402.4 431.5,402.1 432.4,400.9 433.3,399.9 434.3,399.4 435.2,398.9 436.1,399.6 437,400.7 437.9,401.5 438.8,402.2 439.7,403.1 440.6,404.8 441.5,406.3 442.4,407.5 443.3,409.2 444.2,410.4 445.1,411.8 446.1,411.8 447,411.4 447.9,412 448.8,412.4 449.7,412.6 450.6,412.2 451.5,411.7 452.4,411.6 453.3,410.6 454.2,410.1 455.1,409.2 456,408.5 457,407.4 457.9,405.9 458.8,405.6 459.7,406.2 460.6,405.8 461.5,405.1 462.4,403.9 463.3,403.1 464.2,401.3 465.1,399.5 466,397.7 466.9,397 467.8,396 468.8,395 469.7,393.7 470.6,392.4 471.5,391.2 472.4,390.5 473.3,389.4 474.2,388 475.1,385.6 476,382.6 476.9,377.7 477.8,372.9 478.7,368 479.7,363.6 480.6,359.7 481.5,357 482.4,353.4 483.3,351.7 484.2,349.3 485.1,349.5 486,350.3 486.9,352.3 487.8,354.6 488.7,356.5 489.6,357.5 490.5,359.5 491.5,360.9 492.4,363.3 493.3,363.9 494.2,366.7 495.1,367.4 496,368.7 496.9,370 497.8,371.9 498.7,373.3 499.6,374.6 500.5,375 501.4,377.1 502.4,378.3 503.3,380 504.2,381.3 505.1,384.6 506,387.1 506.9,390.8 507.8,393.6 508.7,397.2 509.6,399.7 510.5,402.7 511.4,403 512.3,404.6 513.2,405.5 514.2,406.7 515.1,407.5 516,407.1 516.9,406.2 517.8,405 518.7,403.5 519.6,403.3 520.5,402.7 521.4,402.7 522.3,402.8 523.2,403.5 524.1,403.6 525.1,402 526,401.4 526.9,399.2 527.8,397.6 528.7,396.3 529.6,394.5 530.5,392.7 531.4,390.1 532.3,387.5 533.2,385 534.1,382.6 535,380.6 535.9,379.4 536.9,379.5 537.8,379.8 538.7,380.9 539.6,381.7 540.5,382.4 541.4,384.4 542.3,386.5 543.2,388.1 544.1,389.1 545,390.2 545.9,391 546.8,392.1 547.8,392 548.7,390.8 549.6,389.7 550.5,388.2 551.4,386.7 552.3,383.6 553.2,381.6 554.1,379.8 555,378.9 555.9,376.8 556.8,374.6 557.7,372.8 558.6,369.6 559.6,367.1 560.5,365.9 561.4,364.1 562.3,363.7 563.2,363 564.1,362.2 565,361.4 565.9,361.4 566.8,360.8 567.7,360.5 568.6,361.6 569.5,361.8 570.5,361.2 571.4,360.7 572.3,360.4 573.2,358.7 574.1,356.8 575,354.4 575.9,353.1 576.8,352.5 577.7,351 578.6,350.7 579.5,350.4 580.4,351.3 581.3,353.8 582.3,357.1 583.2,362.1 584.1,368.1 585,370.6 585.9,372.4 586.8,371.3 587.7,372.1 588.6,369.9 589.5,368.4 590.4,365.3 591.3,360 592.2,353.5 593.2,345.1 594.1,337 595,333.8 595.9,330.2 596.8,328.6 597.7,326 598.6,325 599.5,323.2 600.4,321.7 601.3,321 602.2,320.3 603.1,320.9 604,321.3 605,319.4 605.9,317.3 606.8,315.6 607.7,313.6 608.6,312 609.5,311.7 610.4,311.8 611.3,312.6 612.2,313.1 613.1,313.7 614,314.1 614.9,315.8 615.9,317 616.8,318.9 617.7,321 618.6,324 619.5,326.6 620.4,329.8 621.3,331 622.2,332.9 623.1,333.6 624,334.6 624.9,335.1 625.8,336.5 626.7,337.2 627.7,337.2 628.6,336.6 629.5,335.2 630.4,333.1 631.3,331.9 632.2,330.6 633.1,329.6 634,328.1 634.9,326.2 635.8,324.1 636.7,322.2 637.6,321.2 638.6,320.2 639.5,319.5 640.4,318.4 641.3,318.3 642.2,317.8 643.1,318.1 644,318.4 644.9,319.3 645.8,320.8 646.7,321.7 647.6,323.3 648.5,324.7 649.4,326.8 650.4,329.1 651.3,331.1 652.2,333.4 653.1,335.3 654,336.8 654.9,338.6 655.8,339.2 656.7,341 657.6,341.3 658.5,341 659.4,340.3 660.3,338.9 661.2,336.9 662.2,334.4 663.1,331.6 664,328.8 664.9,326 665.8,322.6 666.7,318 667.6,313.2 668.5,309.5 669.4,305.6 670.3,302.3 671.2,298.5 672.1,295.8 673.1,293.8 674,292.5 674.9,289.9 675.8,288.9 676.7,289.1 677.6,288.2 678.5,286.4 679.4,285.8 680.3,283.9 681.2,283 682.1,282.1 683,280.8 683.9,279.2 684.9,278.3 685.8,277.1 686.7,276 687.6,276.5 688.5,278.1 689.4,278.1 690.3,279.9 691.2,281.5 692.1,282.9 693,283.7 693.9,284.5 694.8,285.8 695.8,286.6 696.7,287.1 697.6,287.2 698.5,287 699.4,287.8 700.3,287.4 701.2,286.7 702.1,285.8 703,285.5 703.9,285.3 704.8,284.8 705.7,284.9 706.6,284.9 707.6,285.3 708.5,285.4 709.4,285.2 710.3,285.6 711.2,286.5 712.1,287.4 713,288.1 713.9,288.1 714.8,288.3 715.7,288.5 716.6,288.2 717.5,288.2 718.5,288.4 719.4,289.7 720.3,289.3 721.2,289.1 722.1,288 723,286.8 723.9,286.1 724.8,285.2 725.7,283.4 726.6,281.8 727.5,279.8 728.4,277.8 729.3,275.7 730.3,275.7 731.2,275.4 732.1,275.4 733,275.1 733.9,275.4 734.8,275.5 735.7,276 736.6,276.5 737.5,277.3 738.4,277.9 739.3,277.2 740.2,276.3 741.2,275.4 742.1,275.9 743,276.9 743.9,277.6 744.8,278.4 745.7,279.7 746.6,281.7 747.5,283.5 748.4,284.9 749.3,286.3 750.2,287.9 751.1,288.5 752,288.4 753,287.9 753.9,287.4 754.8,286.9 755.7,286.4 756.6,285.6 757.5,284.9 758.4,284.3 759.3,283.7 760.2,282.8 761.1,282.3 762,282.1 762.9,281.9 763.9,281.5 764.8,280.9 765.7,280.3 766.6,279.2 767.5,277.8 768.4,276.4 769.3,275.2 770.2,273.8 771.1,273.3 772,272.7 772.9,271.6 773.8,270.8 774.7,270.2 775.7,269.1 776.6,268.7 777.5,269.2 778.4,269.5 779.3,270.1 780.2,271.3 781.1,271.3 782,271.6 782.9,272 783.8,273.1 784.7,274.2 785.6,275.6 786.6,276.4 787.5,276.7 788.4,276.5 789.3,275.8 790.2,275.5 791.1,275.9 792,276.3 792.9,276.9 793.8,277.6 794.7,278.1 795.6,278.2 796.5,278 797.4,277.1 798.4,275.9 799.3,275.2 800.2,272.6 801.1,269.2 802,264.9 802.9,260.8 803.8,255.7 804.7,249.6 805.6,242.9 806.5,236.4 807.4,230.5 808.3,224.7 809.3,215.9 810.2,208.6 811.1,202 812,195.5 812.9,189.5 813.8,183.9 814.7,178.5 815.6,174.6 816.5,170.7 817.4,167.4 818.3,164.8 819.2,164.6 820.1,165.2 821.1,164.6 822,166.1 822.9,168 823.8,169.2 824.7,170.6 825.6,170.8 826.5,172.6 827.4,172.9 828.3,174.5 829.2,175.8 830.1,176.3 831,178.2 832,179 832.9,179.3 833.8,181.3 834.7,183.2 835.6,185.8 836.5,186.7 837.4,188.9 838.3,189.7 839.2,191.3 840.1,192.7 841,193.5 841.9,193.8 842.8,193.6 843.8,191.8 844.7,190.9 845.6,189.7 846.5,189.6 847.4,189.5 848.3,189.6 849.2,189.6 850.1,190 851,189.8 851.9,189.8 852.8,190.3 853.7,191.7 854.7,194 855.6,195.5 856.5,196.7 857.4,197.4 858.3,196.4 859.2,195.4 860.1,193.1 861,191.6 861.9,189.3 862.8,187.5 863.7,184.8 864.6,179.8 865.5,176.7 866.5,172.6 867.4,167.3 868.3,163.2 869.2,159 870.1,155.4 871,152 871.9,149.2 872.8,145.7 873.7,141.6 874.6,138.8 875.5,135.7 876.4,134 877.4,132.8 878.3,132.4 879.2,131.7 880.1,131 881,131.1 881.9,130.7 882.8,129.7 883.7,130.1 884.6,130.9 885.5,130.1 886.4,129.6 887.3,129.3 888.2,128.6 889.2,127.4 890.1,126.5 891,125 891.9,124.2" fill="none" stroke="rgba(110,185,245,0.56)" stroke-width="2" stroke-linejoin="round" stroke-linecap="round"/>
</g>
<g stroke="#e0dde0" stroke-width="1" shape-rendering="crispEdges">
<path d="M946.5 44V719M7 691.5H1010"/>
</g>
<g stroke="#d3d1d4" stroke-width="1" shape-rendering="crispEdges">
<path d="M946 689.5H951M946 657.5H951M946 625.5H951M946 594.5H951M946 562.5H951M946 530.5H951M946 498.5H951M946 466.5H951M946 435.5H951M946 403.5H951M946 371.5H951M946 339.5H951M946 307.5H951M946 276.5H951M946 244.5H951M946 212.5H951M946 180.5H951M946 148.5H951M946 117.5H951M946 85.5H951M946 53.5H951"/>
<path d="M114.5 691V696M245.5 691V696M375.5 691V696M506.5 691V696M637.5 691V696M768.5 691V696M899.5 691V696"/>
</g>
<g clip-path="url(#pa)" font-family="Liberation Sans, sans-serif" font-size="12" fill="#131722">
<text x="956" y="692.6" textLength="42" lengthAdjust="spacingAndGlyphs">1740.00</text>
<text x="956" y="660.8" textLength="42" lengthAdjust="spacingAndGlyphs">1760.00</text>
<text x="956" y="629" textLength="42" lengthAdjust="spacingAndGlyphs">1780.00</text>
<text x="956" y="597.2" textLength="42" lengthAdjust="spacingAndGlyphs">1800.00</text>
<text x="956" y="565.4" textLength="42" lengthAdjust="spacingAndGlyphs">1820.00</text>
<text x="956" y="533.6" textLength="42" lengthAdjust="spacingAndGlyphs">1840.00</text>
<text x="956" y="501.8" textLength="42" lengthAdjust="spacingAndGlyphs">1860.00</text>
<text x="956" y="470" textLength="42" lengthAdjust="spacingAndGlyphs">1880.00</text>
<text x="956" y="438.2" textLength="42" lengthAdjust="spacingAndGlyphs">1900.00</text>
<text x="956" y="406.4" textLength="42" lengthAdjust="spacingAndGlyphs">1920.00</text>
<text x="956" y="374.6" textLength="42" lengthAdjust="spacingAndGlyphs">1940.00</text>
<text x="956" y="342.8" textLength="42" lengthAdjust="spacingAndGlyphs">1960.00</text>
<text x="956" y="311" textLength="42" lengthAdjust="spacingAndGlyphs">1980.00</text>
<text x="956" y="279.2" textLength="42" lengthAdjust="spacingAndGlyphs">2000.00</text>
<text x="956" y="247.4" textLength="42" lengthAdjust="spacingAndGlyphs">2020.00</text>
<text x="956" y="215.6" textLength="42" lengthAdjust="spacingAndGlyphs">2040.00</text>
<text x="956" y="183.8" textLength="42" lengthAdjust="spacingAndGlyphs">2060.00</text>
<text x="956" y="152" textLength="42" lengthAdjust="spacingAndGlyphs">2080.00</text>
<text x="956" y="120.2" textLength="42" lengthAdjust="spacingAndGlyphs">2100.00</text>
<text x="956" y="88.4" textLength="42" lengthAdjust="spacingAndGlyphs">2120.00</text>
<text x="956" y="56.6" textLength="42" lengthAdjust="spacingAndGlyphs">2140.00</text>
</g>
<g font-family="Liberation Sans, sans-serif" font-size="12" fill="#131722" text-anchor="middle">
<text x="114" y="709">31</text>
<text x="245" y="709">12:00</text>
<text x="375.5" y="709" font-weight="bold">Apr</text>
<text x="506" y="709">12:00</text>
<text x="637" y="709">2</text>
<text x="768" y="709">12:00</text>
<text x="898.5" y="709">3</text>
</g>
<rect x="962.5" y="50.5" width="31" height="17.5" rx="4" fill="#fff" stroke="#d8d8dc"/>
<text x="967.6" y="62.7" font-family="Liberation Sans, sans-serif" font-size="12" fill="#131722" textLength="20.4" lengthAdjust="spacingAndGlyphs">USD</text>
<path d="M946 116H1003A2 2 0 0 1 1005 118V145A2 2 0 0 1 1003 147H946Z" fill="#ef5350"/>
<path d="M946 124.5H951" stroke="#fff" stroke-width="1"/>
<text x="956" y="128.5" font-family="Liberation Sans, sans-serif" font-size="12" fill="#fff" textLength="42" lengthAdjust="spacingAndGlyphs">2095.37</text>
<text x="956" y="142.3" font-family="Liberation Sans, sans-serif" font-size="12" fill="#fbd9d9" textLength="29" lengthAdjust="spacingAndGlyphs">00:09</text>
<rect x="6.5" y="43.5" width="1004" height="676" fill="none" stroke="#000" stroke-width="1" shape-rendering="crispEdges"/>
<g transform="translate(5.9,729.8)" fill="#2196f3"><circle cx="12.4" cy="7.6" r="7.6"/><circle cx="21.6" cy="9.3" r="4.6"/><circle cx="4.3" cy="10.6" r="4.3"/><rect x="0" y="8" width="26.2" height="7.1" rx="3"/><path d="M1.7 12.9L10.3 5.2L16.3 11.7L22.6 6" fill="none" stroke="#fff" stroke-width="1.5"/><circle cx="10.3" cy="5.2" r="1.4" fill="#fff"/><circle cx="16.3" cy="11.7" r="1.4" fill="#fff"/></g>
<text x="34.5" y="742" font-family="Liberation Sans, sans-serif" font-size="12.5" fill="#131722" textLength="70" lengthAdjust="spacingAndGlyphs">TradingView</text>
</svg>
<svg width="1017" height="90" style="position:absolute;left:0;top:0;will-change:transform">
<text x="7" y="17" font-family="Liberation Sans, sans-serif" font-size="12.5" fill="#131722" font-weight="bold" textLength="41" lengthAdjust="spacingAndGlyphs">n19780</text>
<text x="52.5" y="17" font-family="Liberation Sans, sans-serif" font-size="12.5" fill="#131722" textLength="335.5" lengthAdjust="spacingAndGlyphs">published on TradingView.com, April 02, 2021 22:39:54 UTC</text>
<text x="7" y="33.5" font-family="Liberation Sans, sans-serif" font-size="12.5" fill="#131722" font-weight="bold" textLength="122.5" lengthAdjust="spacingAndGlyphs">COINBASE:ETHUSD, 5</text>
<text x="135.7" y="33.5" font-family="Liberation Sans, sans-serif" font-size="12.5" fill="#131722" textLength="46" lengthAdjust="spacingAndGlyphs">2095.37</text>
<path d="M185 34L190 24L195 34Z" fill="#26a69a"/>
<text x="198.6" y="33.5" font-family="Liberation Sans, sans-serif" font-size="12.5" fill="#131722" textLength="99" lengthAdjust="spacingAndGlyphs">+126.99 (+6.45%)</text>
<text x="301.7" y="33.5" font-family="Liberation Sans, sans-serif" font-size="12.5" fill="#131722" font-weight="bold">O:</text>
<text x="316.6" y="33.5" font-family="Liberation Sans, sans-serif" font-size="12.5" fill="#26a69a" textLength="45.3" lengthAdjust="spacingAndGlyphs">2098.33</text>
<text x="365.8" y="33.5" font-family="Liberation Sans, sans-serif" font-size="12.5" fill="#131722" font-weight="bold">H:</text>
<text x="380.7" y="33.5" font-family="Liberation Sans, sans-serif" font-size="12.5" fill="#26a69a" textLength="45.3" lengthAdjust="spacingAndGlyphs">2099.12</text>
<text x="429.8" y="33.5" font-family="Liberation Sans, sans-serif" font-size="12.5" fill="#131722" font-weight="bold">L:</text>
<text x="441.6" y="33.5" font-family="Liberation Sans, sans-serif" font-size="12.5" fill="#26a69a" textLength="45.3" lengthAdjust="spacingAndGlyphs">2093.41</text>
<text x="490.8" y="33.5" font-family="Liberation Sans, sans-serif" font-size="12.5" fill="#131722" font-weight="bold">C:</text>
<text x="503.4" y="33.5" font-family="Liberation Sans, sans-serif" font-size="12.5" fill="#26a69a" textLength="45.3" lengthAdjust="spacingAndGlyphs">2095.37</text>
<text x="15.7" y="65" font-family="Liberation Sans, sans-serif" font-size="12.5" fill="#131722" font-weight="bold" textLength="210.5" lengthAdjust="spacingAndGlyphs">Ethereum / U.S. Dollar, 5, COINBASE</text>
<text x="15.7" y="81.5" font-family="Liberation Sans, sans-serif" font-size="12.5" fill="#131722" textLength="17" lengthAdjust="spacingAndGlyphs">Vol</text>
</svg>
</body></html>
